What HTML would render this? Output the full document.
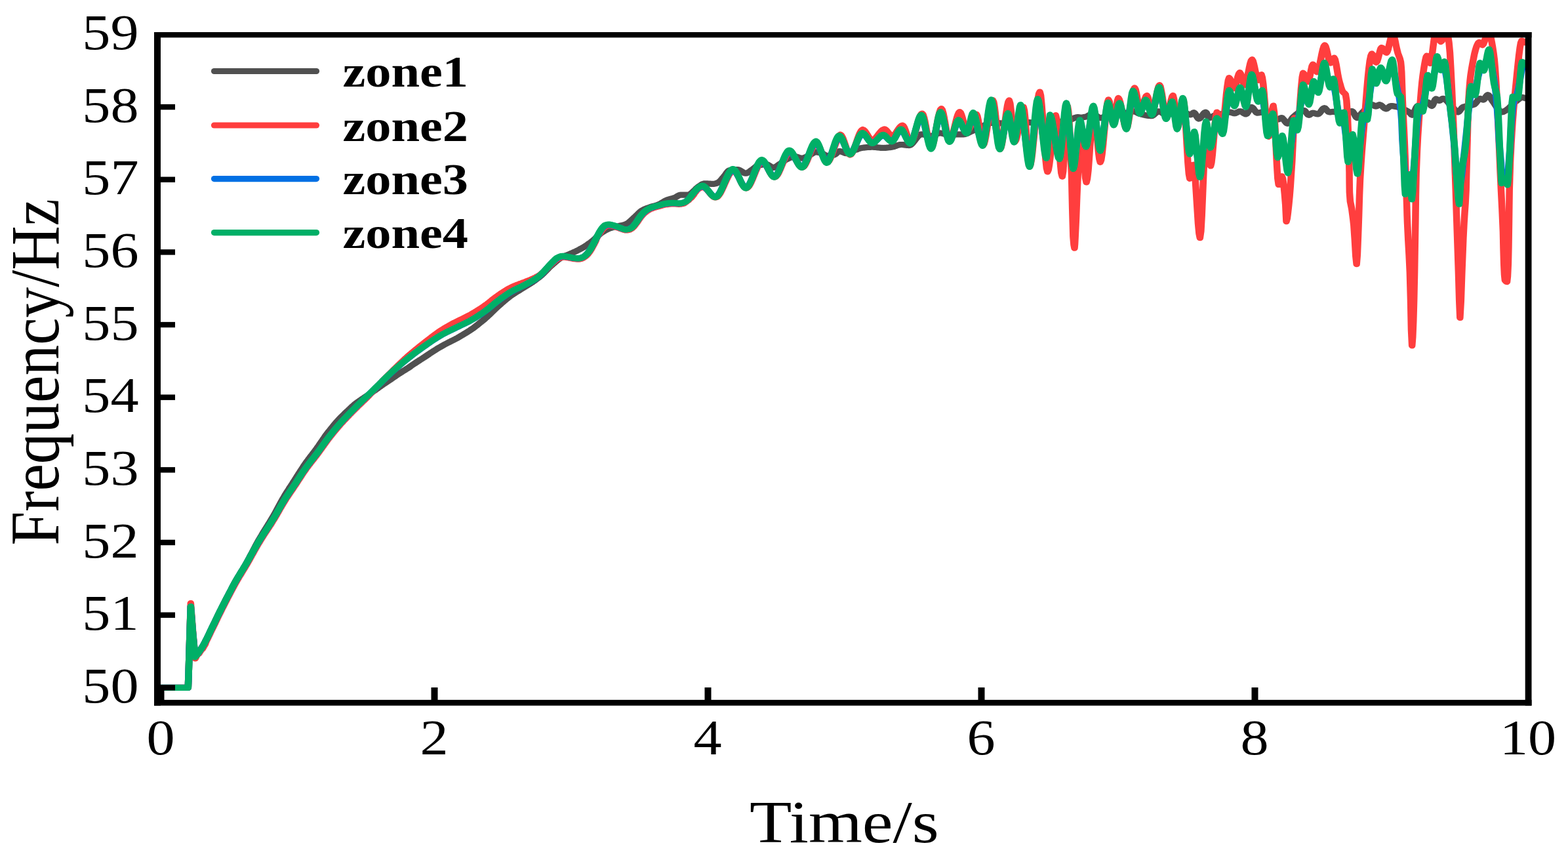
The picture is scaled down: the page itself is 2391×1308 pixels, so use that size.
<!DOCTYPE html>
<html lang="en">
<head>
<meta charset="utf-8">
<title>Frequency vs Time</title>
<style>
html,body{margin:0;padding:0;background:#fff;}
body{width:2391px;height:1308px;overflow:hidden;}
svg{display:block;}
text{font-family:"Liberation Serif","DejaVu Serif",serif;fill:#000;}
.tick{font-size:75.3px;}
.ttl{font-size:92px;}
.leg{font-size:67px;font-weight:bold;}
</style>
</head>
<body>
<svg width="2391" height="1308" viewBox="0 0 2391 1308">
<rect x="0" y="0" width="2391" height="1308" fill="#ffffff"/>
<defs><clipPath id="plotclip"><rect x="240" y="53" width="2090" height="1020"/></clipPath></defs>
<g clip-path="url(#plotclip)"><g transform="scale(1.145 1)">
<g fill="none" stroke="#505050" stroke-linejoin="round" stroke-linecap="round">
<polyline points="214.4,1048.4 250.5,1048.4 251.3,1023.0 254.0,924.6 256.8,965.0 259.7,1001.8 260.9,1000.2 262.1,998.5 263.3,996.7 264.4,994.9 265.6,993.0 266.8,991.0 268.0,988.9 269.1,986.8 270.3,984.6 271.5,982.2 272.7,979.6 273.9,976.9 275.2,974.1 276.4,971.3 277.6,968.4 278.8,965.5 280.0,962.6 281.2,959.7 282.5,956.6 283.8,953.5 285.2,950.4 286.5,947.2 287.8,944.1 289.1,941.0 290.4,937.9 291.7,934.8 292.9,932.0 294.2,929.2 295.4,926.4 296.6,923.6 297.9,920.8 299.1,918.1 300.3,915.3 301.6,912.6 302.8,909.9 304.1,907.1 305.4,904.2 306.7,901.4 308.0,898.6 309.2,895.7 310.5,893.0 311.8,890.2 313.1,887.5 314.4,884.9 315.7,882.4 316.9,880.0 318.2,877.6 319.5,875.2 320.7,872.9 322.0,870.5 323.3,868.2 324.5,865.8 325.8,863.4 327.1,861.0 328.3,858.4 329.6,855.8 330.8,853.1 332.1,850.4 333.3,847.7 334.6,844.9 335.9,842.2 337.1,839.5 338.4,836.7 339.6,834.0 340.9,831.4 342.1,828.7 343.4,826.1 344.6,823.5 345.9,821.0 347.2,818.5 348.5,816.1 349.7,813.7 351.0,811.3 352.3,808.9 353.6,806.6 354.8,804.2 356.1,801.9 357.4,799.5 358.7,797.1 360.0,794.8 361.2,792.4 362.5,789.9 363.8,787.5 365.1,784.9 366.4,782.3 367.7,779.6 369.0,776.8 370.3,774.0 371.6,771.2 372.9,768.4 374.2,765.6 375.5,762.9 376.9,760.3 378.2,757.7 379.4,755.3 380.7,752.9 382.0,750.5 383.3,748.2 384.6,746.0 385.8,743.7 387.1,741.5 388.4,739.2 389.7,737.0 390.9,734.7 392.2,732.4 393.5,730.2 394.7,728.0 395.9,725.8 397.1,723.6 398.4,721.4 399.6,719.2 400.8,717.0 402.1,714.8 403.3,712.7 404.5,710.5 405.8,708.4 407.0,706.4 408.2,704.4 409.5,702.5 410.7,700.5 412.0,698.7 413.2,696.8 414.4,694.9 415.7,693.1 416.9,691.3 418.2,689.4 419.4,687.6 420.7,685.6 421.9,683.7 423.1,681.7 424.4,679.7 425.6,677.7 426.8,675.6 428.1,673.5 429.3,671.5 430.5,669.4 431.8,667.3 433.0,665.2 434.2,663.3 435.5,661.4 436.7,659.6 438.0,657.7 439.3,655.9 440.6,654.0 441.9,652.2 443.2,650.4 444.4,648.6 445.7,646.8 447.0,645.1 448.3,643.4 449.6,641.7 450.9,640.0 452.2,638.5 453.4,637.1 454.7,635.6 455.9,634.2 457.2,632.8 458.4,631.4 459.7,630.0 460.9,628.6 462.2,627.2 463.5,625.9 464.7,624.5 466.0,623.2 467.2,621.9 468.5,620.5 469.7,619.2 471.0,617.9 472.2,616.6 473.5,615.5 474.7,614.4 476.0,613.4 477.2,612.4 478.5,611.4 479.7,610.4 481.0,609.4 482.2,608.4 483.5,607.5 484.7,606.5 486.0,605.5 487.2,604.5 488.5,603.6 489.8,602.6 491.0,601.6 492.3,600.6 493.5,599.6 494.8,598.6 496.0,597.6 497.3,596.6 498.6,595.5 499.9,594.5 501.2,593.4 502.5,592.4 503.8,591.3 505.1,590.2 506.4,589.2 507.7,588.1 508.9,587.1 510.2,586.1 511.5,585.0 512.8,584.0 514.1,583.0 515.4,582.0 516.7,581.0 518.0,580.1 519.3,579.1 520.5,578.2 521.8,577.2 523.1,576.2 524.4,575.2 525.7,574.2 526.9,573.2 528.2,572.2 529.5,571.2 530.8,570.2 532.0,569.3 533.3,568.3 534.6,567.4 535.8,566.4 537.1,565.5 538.4,564.6 539.7,563.7 540.9,562.8 542.2,561.9 543.5,561.0 544.8,560.0 546.1,559.0 547.3,557.9 548.6,556.9 549.9,555.9 551.2,554.9 552.4,554.0 553.7,553.0 555.0,552.0 556.3,551.0 557.6,550.1 558.8,549.1 560.1,548.2 561.4,547.3 562.7,546.3 564.0,545.4 565.2,544.5 566.5,543.5 567.8,542.5 569.1,541.5 570.4,540.5 571.7,539.5 572.9,538.5 574.2,537.6 575.5,536.6 576.8,535.6 578.1,534.7 579.4,533.8 580.7,532.8 581.9,531.9 583.2,531.0 584.5,530.2 585.8,529.3 587.1,528.5 588.4,527.6 589.6,526.8 590.9,526.0 592.2,525.2 593.5,524.4 594.7,523.7 596.0,522.9 597.3,522.1 598.6,521.4 599.9,520.7 601.1,519.9 602.4,519.2 603.7,518.5 605.0,517.7 606.3,517.0 607.5,516.2 608.8,515.5 610.1,514.6 611.4,513.7 612.6,512.9 613.9,512.0 615.2,511.1 616.5,510.3 617.7,509.4 619.0,508.5 620.3,507.7 621.5,506.8 622.8,505.9 624.1,504.9 625.4,504.0 626.6,503.0 627.9,502.0 629.3,501.0 630.6,499.9 631.9,498.8 633.2,497.6 634.5,496.5 635.8,495.3 637.1,494.1 638.4,492.9 639.7,491.7 641.0,490.5 642.4,489.3 643.7,488.0 645.0,486.8 646.3,485.5 647.5,484.2 648.8,482.9 650.0,481.6 651.3,480.3 652.5,478.9 653.8,477.5 655.0,476.1 656.3,474.7 657.5,473.3 658.8,471.9 660.0,470.5 661.3,469.2 662.5,467.9 663.8,466.6 665.0,465.3 666.3,464.1 667.5,462.8 668.7,461.6 670.0,460.4 671.2,459.1 672.5,457.9 673.7,456.7 675.0,455.6 676.2,454.4 677.5,453.3 678.7,452.2 680.0,451.1 681.2,450.1 682.5,449.1 683.7,448.1 685.0,447.2 686.2,446.3 687.5,445.4 688.7,444.5 690.0,443.6 691.2,442.8 692.5,441.9 693.7,441.0 694.9,440.2 696.2,439.3 697.4,438.4 698.7,437.5 699.9,436.7 701.2,435.8 702.4,434.9 703.7,434.0 704.9,433.1 706.2,432.2 707.4,431.3 708.7,430.4 709.9,429.4 711.2,428.4 712.4,427.4 713.7,426.3 714.9,425.2 716.2,424.1 717.5,423.1 718.8,421.9 720.1,420.7 721.4,419.3 722.7,417.9 724.0,416.5 725.3,415.0 726.6,413.5 727.9,412.0 729.2,410.4 730.5,408.9 731.7,407.4 733.0,406.0 734.3,404.7 735.6,403.4 736.9,402.1 738.2,400.9 739.5,399.6 740.8,398.3 742.1,397.1 743.3,395.9 744.6,394.8 745.9,393.8 747.2,392.8 748.5,392.0 749.7,391.3 751.0,390.7 752.3,390.1 753.6,389.6 754.8,389.0 756.1,388.5 757.4,387.9 758.6,387.3 759.8,386.7 761.0,386.1 762.2,385.5 763.4,384.9 764.7,384.3 765.9,383.6 767.1,383.0 768.3,382.3 769.5,381.6 770.7,380.9 771.9,380.2 773.1,379.4 774.4,378.7 775.6,377.9 776.8,377.1 778.0,376.3 779.2,375.4 780.5,374.5 781.7,373.5 782.9,372.5 784.2,371.5 785.4,370.5 786.7,369.4 787.9,368.3 789.2,367.2 790.4,366.0 791.7,364.7 793.0,363.3 794.3,361.8 795.6,360.3 796.9,358.8 798.3,357.4 799.6,356.1 800.9,355.0 802.1,354.0 803.4,353.1 804.7,352.2 805.9,351.4 807.2,350.6 808.4,349.8 809.7,349.2 811.0,348.5 812.2,348.0 813.5,347.5 814.8,347.1 816.2,346.7 817.5,346.3 818.8,346.0 820.1,345.6 821.4,345.3 822.7,344.9 823.9,344.6 825.1,344.3 826.3,344.0 827.6,343.7 828.8,343.4 830.0,343.1 831.2,342.7 832.4,342.3 833.6,341.8 834.8,341.2 836.1,340.3 837.3,339.3 838.5,338.1 839.7,336.9 840.9,335.6 842.1,334.3 843.3,333.0 844.5,331.8 845.7,330.6 846.9,329.2 848.2,327.8 849.4,326.4 850.6,325.1 851.8,323.7 853.0,322.5 854.2,321.5 855.4,320.6 856.6,319.9 857.8,319.2 859.0,318.6 860.2,318.0 861.4,317.5 862.6,317.0 863.9,316.5 865.1,316.1 866.3,315.6 867.5,315.1 868.7,314.7 869.9,314.3 871.1,314.0 872.4,313.6 873.6,313.2 874.8,312.8 876.0,312.3 877.2,311.8 878.4,311.2 879.6,310.5 880.8,309.7 882.0,308.8 883.2,308.0 884.4,307.1 885.6,306.3 886.8,305.6 888.0,305.0 889.2,304.5 890.5,304.0 891.7,303.6 892.9,303.3 894.1,302.9 895.3,302.5 896.5,302.1 897.7,301.7 899.0,301.2 900.1,300.6 901.3,299.7 902.5,298.9 903.7,298.1 904.8,297.5 906.0,297.2 907.2,297.2 908.4,297.1 909.6,297.1 910.9,297.1 912.1,297.1 913.3,297.1 914.5,297.0 915.7,297.0 916.9,297.0 918.0,296.7 919.1,295.9 920.2,295.0 921.3,293.9 922.3,292.9 923.6,291.6 924.9,290.2 926.2,288.7 927.4,287.2 928.7,285.9 930.0,284.8 931.2,283.8 932.5,282.8 933.7,281.9 934.9,281.0 936.2,280.4 937.4,279.9 938.7,279.8 939.9,279.8 941.1,279.8 942.3,279.9 943.5,280.0 944.7,280.1 945.9,280.2 947.1,280.3 948.3,280.4 949.6,280.4 950.9,280.3 952.2,280.0 953.5,279.6 954.8,279.1 956.1,278.5 957.4,277.7 958.6,276.4 959.9,274.9 961.2,273.2 962.4,271.4 963.7,269.8 965.0,268.0 966.2,266.0 967.5,263.9 968.8,262.0 970.1,260.5 971.3,259.8 972.5,259.6 973.7,259.3 975.0,259.1 976.2,259.0 977.4,258.8 978.6,258.7 979.8,258.6 981.0,258.6 982.2,258.6 983.4,258.8 984.6,259.3 985.8,260.0 987.1,260.9 988.3,261.8 989.5,262.7 990.7,263.5 991.9,264.0 993.1,264.2 994.3,264.0 995.6,263.4 996.8,262.6 998.1,261.7 999.3,260.6 1000.6,259.5 1001.8,258.6 1003.1,257.5 1004.3,256.3 1005.6,255.1 1006.9,253.9 1008.2,252.9 1009.4,252.3 1010.6,252.0 1011.8,251.7 1013.1,251.4 1014.3,251.1 1015.5,250.9 1016.7,250.7 1017.9,250.6 1019.1,250.5 1020.3,250.5 1021.5,250.7 1022.8,251.3 1024.0,252.1 1025.2,253.0 1026.4,253.9 1027.7,254.7 1028.9,255.2 1030.1,255.5 1031.4,255.3 1032.6,254.7 1033.8,253.9 1035.1,252.9 1036.3,251.9 1037.6,250.8 1038.8,249.9 1040.1,248.9 1041.3,247.9 1042.5,246.8 1043.8,245.7 1045.0,244.7 1046.3,243.8 1047.5,243.0 1048.7,242.3 1049.9,241.7 1051.2,241.0 1052.4,240.4 1053.6,239.8 1054.8,239.3 1056.0,239.0 1057.2,238.7 1058.4,238.6 1059.6,238.7 1060.9,239.0 1062.1,239.4 1063.3,239.9 1064.5,240.3 1065.8,240.7 1067.0,241.0 1068.2,241.1 1069.4,241.0 1070.7,240.6 1071.9,240.1 1073.2,239.5 1074.4,238.8 1075.7,238.0 1076.9,237.4 1078.1,236.7 1079.4,235.8 1080.6,234.9 1081.8,234.0 1083.0,233.1 1084.3,232.4 1085.5,232.0 1086.7,231.8 1087.9,231.9 1089.2,232.1 1090.4,232.4 1091.6,232.8 1092.8,233.3 1094.1,233.8 1095.3,234.4 1096.5,234.9 1097.6,235.5 1098.7,236.4 1099.8,237.1 1100.9,237.4 1102.1,237.4 1103.3,237.3 1104.5,237.2 1105.8,237.0 1107.0,236.9 1108.2,236.6 1109.4,236.4 1110.7,236.1 1111.9,235.5 1113.2,234.4 1114.5,233.1 1115.7,231.9 1117.0,230.9 1118.3,230.5 1119.5,230.7 1120.8,231.2 1122.0,231.8 1123.3,232.4 1124.5,233.0 1125.7,233.5 1127.0,233.7 1128.2,233.6 1129.4,233.3 1130.6,232.8 1131.9,232.3 1133.1,231.7 1134.3,231.0 1135.5,230.4 1136.7,229.7 1138.0,229.1 1139.2,228.6 1140.4,228.1 1141.7,227.6 1142.9,227.0 1144.2,226.5 1145.4,226.1 1146.7,225.7 1147.9,225.5 1149.1,225.3 1150.4,225.1 1151.6,224.9 1152.8,224.8 1154.1,224.6 1155.3,224.5 1156.6,224.4 1157.8,224.3 1159.0,224.3 1160.3,224.2 1161.5,224.2 1162.7,224.2 1164.0,224.3 1165.2,224.4 1166.4,224.5 1167.6,224.7 1168.9,224.8 1170.1,225.0 1171.3,225.1 1172.5,225.3 1173.7,225.4 1175.0,225.4 1176.2,225.5 1177.5,225.4 1178.7,225.4 1180.0,225.3 1181.3,225.1 1182.5,225.0 1183.8,224.8 1185.1,224.6 1186.4,224.4 1187.6,224.2 1188.9,224.0 1190.1,223.6 1191.4,223.1 1192.6,222.6 1193.9,222.1 1195.1,221.6 1196.4,221.2 1197.6,220.8 1198.9,220.6 1200.1,220.5 1201.3,220.5 1202.5,220.6 1203.6,220.8 1204.8,220.9 1206.0,221.1 1207.2,221.3 1208.3,221.4 1209.5,221.5 1210.7,221.6 1211.9,221.3 1213.2,220.5 1214.4,219.3 1215.7,217.8 1216.9,216.0 1218.2,214.1 1219.4,212.2 1220.7,210.3 1222.0,208.5 1223.2,207.0 1224.5,205.8 1225.7,205.0 1227.0,204.8 1228.3,204.8 1229.6,205.0 1230.9,205.3 1232.2,205.6 1233.5,206.0 1234.8,206.4 1236.1,206.7 1237.4,207.0 1238.7,207.2 1240.0,207.2 1241.2,207.1 1242.4,206.8 1243.6,206.3 1244.8,205.7 1246.0,205.1 1247.2,204.4 1248.4,203.8 1249.6,203.3 1250.8,203.0 1252.0,202.9 1253.3,203.0 1254.5,203.2 1255.8,203.6 1257.0,204.0 1258.3,204.4 1259.5,204.9 1260.8,205.3 1262.0,205.7 1263.3,205.9 1264.5,206.0 1265.8,206.0 1267.0,205.9 1268.3,205.7 1269.5,205.6 1270.8,205.4 1272.0,205.2 1273.3,205.0 1274.6,204.9 1275.8,204.8 1277.1,204.8 1278.4,204.8 1279.7,204.8 1281.0,204.8 1282.3,204.8 1283.6,204.8 1284.8,204.6 1286.0,204.3 1287.2,203.8 1288.4,203.2 1289.6,202.5 1290.8,201.8 1292.1,201.1 1293.3,200.4 1294.5,199.8 1295.7,199.2 1296.9,198.7 1298.1,198.1 1299.3,197.6 1300.5,197.0 1301.7,196.5 1302.9,195.9 1304.1,195.4 1305.4,194.8 1306.6,194.1 1307.9,193.3 1309.2,192.4 1310.5,191.5 1311.8,190.6 1313.1,189.8 1314.4,189.0 1315.6,188.3 1316.9,187.8 1318.2,187.4 1319.5,187.3 1320.7,187.3 1322.0,187.3 1323.2,187.4 1324.4,187.4 1325.7,187.5 1326.9,187.5 1328.1,187.6 1329.4,187.6 1330.6,187.7 1331.8,187.8 1333.1,187.8 1334.3,187.9 1335.5,187.9 1336.8,187.9 1338.0,187.9 1339.3,187.9 1340.6,187.9 1341.9,187.8 1343.1,187.7 1344.4,187.5 1345.7,187.4 1347.0,187.2 1348.3,187.1 1349.5,186.9 1350.8,186.7 1352.1,186.6 1353.4,186.4 1354.7,186.3 1355.9,186.2 1357.2,186.1 1358.5,186.1 1359.8,186.1 1361.1,186.1 1362.3,186.1 1363.6,186.2 1364.9,186.2 1366.2,186.3 1367.5,186.4 1368.7,186.5 1370.0,186.6 1371.3,186.7 1372.6,186.8 1373.9,186.9 1375.1,187.0 1376.4,187.1 1377.7,187.2 1379.0,187.3 1380.3,187.3 1381.6,187.3 1382.8,187.3 1384.1,187.3 1385.4,187.2 1386.7,187.2 1388.0,187.1 1389.2,187.1 1390.5,187.0 1391.8,186.9 1393.1,186.8 1394.4,186.7 1395.6,186.6 1396.9,186.5 1398.2,186.4 1399.5,186.3 1400.8,186.2 1402.0,186.1 1403.3,186.1 1404.6,186.0 1405.8,185.9 1407.1,185.8 1408.3,185.8 1409.6,185.7 1410.9,185.6 1412.1,185.5 1413.4,185.4 1414.6,185.3 1415.9,185.2 1417.1,185.1 1418.4,185.0 1419.7,184.8 1420.9,184.6 1422.2,184.2 1423.4,183.7 1424.7,183.1 1425.9,182.5 1427.2,181.8 1428.4,181.1 1429.7,180.4 1431.0,179.8 1432.2,179.3 1433.5,178.9 1434.7,178.7 1436.0,178.6 1436.9,178.7 1437.8,179.0 1438.6,179.2 1439.9,179.1 1441.2,179.0 1442.5,178.8 1443.7,178.5 1445.0,178.2 1446.3,177.9 1447.5,177.5 1448.7,176.8 1450.0,175.9 1451.2,175.1 1452.5,174.3 1453.7,173.8 1455.0,173.6 1456.2,173.8 1457.4,174.3 1458.6,175.2 1459.8,176.2 1461.0,177.2 1462.2,178.2 1463.4,179.0 1464.6,179.6 1465.9,179.8 1467.1,179.6 1468.3,179.2 1469.5,178.7 1470.7,177.9 1471.9,177.2 1473.1,176.4 1474.3,175.7 1475.5,175.2 1476.7,174.8 1477.9,174.6 1479.2,174.4 1480.4,174.3 1481.6,174.2 1482.8,174.0 1484.0,173.9 1485.2,173.8 1486.4,173.7 1487.6,173.6 1488.8,173.4 1490.0,173.3 1491.3,173.2 1492.5,173.1 1493.7,172.9 1494.9,172.8 1496.1,172.6 1497.3,172.5 1498.5,172.3 1499.7,172.1 1500.9,171.8 1502.1,171.4 1503.3,171.0 1504.6,170.7 1505.8,170.3 1507.0,170.1 1508.2,169.9 1509.4,169.8 1510.6,170.0 1511.9,170.4 1513.1,171.0 1514.4,171.7 1515.6,172.5 1516.9,173.1 1518.1,173.6 1519.4,173.9 1520.6,174.3 1521.9,174.7 1523.2,175.0 1524.5,175.4 1525.7,175.7 1527.0,175.9 1528.3,176.2 1529.5,176.4 1530.8,176.5 1532.1,176.6 1533.3,176.7 1534.6,176.4 1535.8,175.6 1537.0,174.5 1538.2,173.3 1539.5,172.0 1540.7,170.9 1541.9,170.1 1543.1,169.8 1544.4,170.0 1545.6,170.6 1546.8,171.4 1548.0,172.3 1549.3,173.2 1550.5,174.0 1551.7,174.6 1552.9,174.8 1554.1,174.7 1555.4,174.6 1556.6,174.3 1557.8,174.0 1559.0,173.6 1560.2,173.2 1561.4,172.9 1562.6,172.5 1563.8,172.3 1565.0,172.1 1566.2,171.9 1567.4,171.7 1568.7,171.6 1569.9,171.4 1571.1,171.3 1572.3,171.2 1573.5,171.1 1574.7,171.1 1575.9,171.2 1577.1,171.5 1578.3,172.0 1579.5,172.6 1580.8,173.3 1582.0,173.8 1583.2,174.3 1584.4,174.7 1585.6,174.8 1586.7,174.3 1587.8,173.3 1588.9,172.2 1589.9,171.7 1591.2,172.7 1592.6,175.0 1593.9,177.8 1595.2,180.1 1596.5,181.0 1597.6,180.6 1598.8,179.5 1599.9,177.9 1601.1,176.1 1602.3,174.2 1603.4,172.6 1604.6,171.5 1605.7,171.1 1606.9,172.4 1608.0,175.4 1609.1,178.3 1610.3,179.6 1611.5,179.4 1612.8,178.9 1614.1,178.1 1615.3,177.2 1616.6,176.5 1617.9,175.9 1619.1,175.5 1620.3,175.2 1621.5,174.9 1622.7,174.7 1623.9,174.4 1625.1,174.2 1626.3,173.9 1627.5,173.7 1628.8,173.4 1630.0,173.1 1631.2,172.7 1632.4,172.3 1633.7,171.9 1634.9,171.6 1636.1,171.3 1637.3,171.1 1638.6,171.0 1639.6,171.2 1640.7,171.7 1641.8,172.2 1642.9,172.6 1644.0,172.8 1645.3,172.6 1646.5,172.0 1647.8,171.2 1649.1,170.5 1650.3,169.9 1651.6,169.7 1652.9,170.0 1654.2,170.8 1655.4,171.9 1656.7,172.9 1658.0,173.7 1659.2,174.0 1660.5,173.3 1661.8,171.3 1663.0,168.7 1664.3,166.2 1665.6,164.2 1666.9,163.4 1668.1,164.1 1669.4,165.7 1670.7,167.8 1671.9,169.9 1673.2,171.5 1674.5,172.2 1675.8,172.0 1677.1,171.7 1678.4,171.4 1679.7,171.1 1681.0,170.9 1682.2,171.2 1683.4,171.9 1684.6,172.9 1685.8,174.1 1687.1,175.4 1688.3,176.8 1689.5,178.0 1690.7,179.0 1691.9,179.6 1693.1,180.1 1694.3,180.6 1695.6,181.0 1696.8,181.4 1698.0,181.7 1699.2,181.9 1700.5,182.1 1701.7,182.1 1702.9,181.8 1704.1,180.9 1705.4,180.0 1706.6,179.6 1707.8,180.1 1708.9,181.4 1710.1,183.1 1711.3,184.9 1712.4,186.6 1713.6,187.9 1714.7,188.4 1716.0,187.8 1717.3,186.3 1718.6,184.3 1719.8,182.1 1721.1,180.0 1722.4,178.4 1723.7,177.2 1724.9,175.9 1726.2,174.7 1727.5,173.4 1728.8,172.3 1730.1,171.2 1731.4,170.3 1732.7,169.5 1733.9,168.9 1735.2,168.6 1736.5,168.4 1737.8,169.1 1739.1,170.8 1740.4,172.9 1741.7,174.6 1743.1,175.3 1744.1,175.0 1745.2,174.2 1746.3,173.3 1747.4,172.5 1748.5,172.2 1749.8,172.4 1751.1,172.8 1752.4,173.4 1753.7,173.8 1755.0,174.0 1756.3,173.5 1757.5,172.2 1758.8,170.4 1760.0,168.4 1761.2,166.5 1762.5,165.2 1763.7,164.7 1765.0,165.3 1766.3,166.9 1767.7,168.7 1769.0,170.3 1770.3,170.9 1771.4,170.9 1772.4,170.7 1773.5,170.5 1774.6,170.4 1775.7,170.3 1776.9,170.4 1778.2,170.6 1779.4,170.9 1780.6,171.2 1781.8,171.6 1783.1,171.9 1784.3,172.1 1785.5,172.2 1786.8,172.1 1788.0,172.0 1789.3,171.8 1790.6,171.5 1791.9,171.2 1793.1,170.9 1794.4,170.6 1795.7,170.3 1796.9,170.1 1798.2,169.9 1799.5,169.7 1800.7,169.7 1802.0,170.7 1803.4,173.2 1804.7,176.1 1806.0,178.6 1807.3,179.6 1808.6,179.1 1809.9,177.7 1811.2,175.8 1812.5,173.8 1813.8,172.2 1815.0,170.8 1816.3,169.4 1817.5,167.9 1818.7,166.3 1820.0,164.9 1821.2,163.5 1822.5,162.2 1823.7,161.2 1824.9,160.4 1826.2,159.8 1827.4,159.6 1828.6,160.0 1829.9,160.9 1831.1,161.8 1832.3,162.1 1833.5,161.8 1834.7,160.9 1836.0,160.0 1837.2,159.6 1838.4,160.0 1839.7,160.9 1840.9,162.1 1842.2,163.4 1843.4,164.6 1844.7,165.5 1845.9,165.9 1847.2,165.4 1848.5,164.3 1849.8,163.1 1851.1,162.0 1852.4,161.5 1853.7,161.6 1855.0,161.7 1856.2,161.9 1857.5,162.2 1858.8,162.5 1860.1,162.8 1861.3,163.1 1862.6,163.5 1863.8,163.9 1865.1,164.4 1866.3,164.9 1867.6,165.5 1868.8,166.2 1870.1,166.8 1871.4,167.6 1872.6,168.3 1873.9,169.1 1875.1,170.0 1876.4,170.9 1877.5,172.0 1878.6,173.4 1879.7,174.7 1880.7,175.2 1882.0,174.0 1883.4,171.1 1884.7,167.5 1886.0,164.2 1887.3,162.1 1888.6,161.2 1889.8,160.2 1891.1,159.4 1892.4,158.6 1893.7,157.9 1895.0,157.4 1896.3,156.8 1897.6,156.4 1898.8,156.2 1900.1,156.0 1901.4,155.9 1902.5,156.5 1903.6,157.9 1904.7,159.5 1905.8,160.9 1906.9,161.5 1908.0,160.4 1909.0,157.8 1910.1,154.7 1911.2,152.0 1912.3,150.9 1913.4,151.3 1914.5,152.2 1915.6,153.0 1916.7,153.4 1917.9,152.9 1919.1,151.9 1920.3,150.8 1921.6,150.3 1922.8,150.5 1924.0,151.2 1925.3,152.2 1926.5,153.5 1927.7,155.0 1929.0,156.6 1930.2,158.3 1931.5,160.1 1932.7,161.7 1933.9,163.3 1935.2,164.6 1936.5,166.1 1937.8,167.8 1939.1,169.3 1940.4,170.4 1941.7,170.9 1943.0,170.2 1944.3,168.5 1945.6,166.5 1946.9,164.6 1948.2,163.4 1949.5,162.8 1950.8,162.4 1952.0,162.0 1953.3,161.7 1954.6,161.4 1955.8,161.2 1957.1,161.0 1958.4,160.7 1959.7,160.4 1960.9,160.0 1962.2,159.6 1963.5,159.0 1964.7,157.9 1966.0,156.2 1967.3,154.2 1968.5,152.3 1969.8,150.9 1971.1,150.3 1972.2,150.6 1973.3,151.2 1974.4,151.9 1975.4,152.2 1976.6,151.4 1977.8,149.5 1979.0,147.3 1980.2,145.5 1981.4,144.7 1982.6,145.3 1983.8,147.0 1985.0,149.1 1986.2,151.4 1987.4,153.4 1988.7,155.4 1990.0,157.6 1991.3,159.9 1992.6,162.2 1993.9,164.4 1995.3,166.5 1996.6,168.3 1997.9,169.6 1999.2,170.5 2000.5,170.9 2001.7,170.6 2002.9,170.0 2004.1,169.2 2005.4,168.4 2006.6,167.5 2007.8,166.4 2009.0,165.3 2010.3,164.0 2011.5,162.6 2012.7,161.2 2013.9,159.8 2015.2,158.4 2016.4,157.0 2017.6,155.7 2018.8,154.5 2020.1,153.4 2021.2,152.4 2022.4,151.3 2023.6,150.2 2024.8,149.3 2026.0,148.7 2027.1,148.4 2028.2,148.6 2029.3,149.0 2030.4,149.4 2031.5,149.7 2032.8,149.8 2034.1,149.9 2035.4,150.0 2036.7,150.0" stroke-width="9.20"/>
</g>
<g fill="none" stroke="#ff3e3e" stroke-linejoin="round" stroke-linecap="round">
<polyline points="214.4,1048.4 250.5,1048.4 251.3,1023.0 254.0,919.6 257.0,965.0 260.1,1004.0 262.6,998.1 263.8,997.1 265.0,996.1 266.1,994.2 267.3,992.2 268.5,990.1 269.7,989.1 270.8,986.9 272.0,984.5 273.3,982.1 274.5,978.2 275.7,975.5 276.9,972.7 278.1,969.8 279.3,966.9 280.5,964.0 281.7,961.0 283.1,958.0 284.4,954.9 285.7,951.9 287.0,948.7 288.3,945.6 289.6,942.5 290.9,939.5 292.2,936.5 293.5,933.6 294.7,930.7 295.9,927.9 297.2,925.1 298.4,922.4 299.6,919.6 300.9,916.8 302.1,914.1 303.3,911.3 304.6,908.5 305.9,905.7 307.2,902.9 308.5,900.1 309.8,897.3 311.1,894.5 312.4,891.8 313.6,889.2 314.9,886.6 316.2,884.0 317.5,881.6 318.7,879.1 320.0,876.7 321.3,874.4 322.5,872.0 323.8,869.6 325.1,867.3 326.3,864.9 327.6,862.4 328.9,860.0 330.1,857.5 331.4,854.9 332.6,852.4 333.9,849.8 335.1,847.2 336.4,844.7 337.6,842.1 338.9,839.5 340.1,837.0 341.4,834.4 342.6,832.0 343.9,829.5 345.2,827.1 346.4,824.7 347.7,822.3 349.0,820.0 350.3,817.7 351.5,815.4 352.8,813.2 354.1,811.0 355.4,808.7 356.6,806.5 357.9,804.3 359.2,802.0 360.5,799.8 361.8,797.5 363.0,795.1 364.3,792.8 365.6,790.3 366.9,787.8 368.2,785.3 369.5,782.7 370.8,780.1 372.1,777.4 373.4,774.8 374.8,772.2 376.1,769.6 377.4,767.1 378.7,764.7 380.0,762.3 381.2,760.0 382.5,757.8 383.8,755.6 385.1,753.4 386.4,751.2 387.6,749.1 388.9,747.0 390.2,744.8 391.5,742.7 392.8,740.5 394.0,738.4 395.2,736.2 396.4,734.0 397.7,731.9 398.9,729.7 400.1,727.6 401.4,725.4 402.6,723.3 403.8,721.2 405.1,719.1 406.3,717.1 407.5,715.1 408.8,713.1 410.0,711.2 411.2,709.3 412.5,707.5 413.7,705.6 415.0,703.8 416.2,702.0 417.5,700.2 418.7,698.4 419.9,696.5 421.2,694.7 422.4,692.8 423.7,690.9 424.9,689.0 426.1,687.1 427.4,685.1 428.6,683.2 429.8,681.2 431.1,679.2 432.3,677.2 433.5,675.3 434.7,673.3 436.0,671.4 437.2,669.5 438.5,667.6 439.8,665.7 441.1,663.8 442.4,662.0 443.7,660.1 445.0,658.3 446.3,656.5 447.6,654.7 448.9,653.0 450.1,651.3 451.4,649.6 452.7,647.9 453.9,646.3 455.2,644.7 456.5,643.2 457.7,641.6 459.0,640.1 460.2,638.6 461.5,637.0 462.7,635.5 464.0,634.1 465.2,632.6 466.5,631.1 467.7,629.6 469.0,628.2 470.2,626.7 471.5,625.3 472.8,623.8 474.0,622.4 475.3,621.0 476.5,619.6 477.8,618.1 479.0,616.8 480.3,615.4 481.5,614.0 482.8,612.6 484.0,611.2 485.3,609.9 486.5,608.5 487.8,607.1 489.0,605.8 490.3,604.3 491.5,602.8 492.8,601.2 494.0,599.6 495.3,598.0 496.6,596.4 497.9,594.8 499.2,593.2 500.4,591.6 501.7,590.0 503.0,588.5 504.3,586.9 505.6,585.4 506.9,583.9 508.2,582.3 509.5,580.8 510.8,579.2 512.0,577.7 513.3,576.2 514.6,574.7 515.9,573.2 517.2,571.7 518.5,570.2 519.8,568.8 521.1,567.3 522.4,565.9 523.6,564.4 524.9,563.0 526.2,561.5 527.5,560.1 528.7,558.7 530.0,557.2 531.3,555.8 532.6,554.4 533.8,553.1 535.1,551.7 536.4,550.3 537.6,548.9 538.9,547.6 540.2,546.3 541.5,544.9 542.7,543.6 544.0,542.3 545.3,541.0 546.6,539.8 547.9,538.5 549.1,537.3 550.4,536.1 551.7,534.9 553.0,533.7 554.3,532.5 555.5,531.3 556.8,530.1 558.1,528.9 559.4,527.7 560.6,526.6 561.9,525.4 563.2,524.3 564.5,523.1 565.8,522.0 567.0,520.8 568.3,519.7 569.6,518.6 570.9,517.4 572.2,516.3 573.5,515.2 574.8,514.0 576.0,512.9 577.3,511.8 578.6,510.7 579.9,509.7 581.2,508.6 582.5,507.5 583.7,506.5 585.0,505.5 586.3,504.5 587.6,503.5 588.9,502.6 590.2,501.7 591.4,500.8 592.7,499.9 594.0,499.0 595.3,498.2 596.6,497.3 597.8,496.5 599.1,495.6 600.4,494.8 601.7,494.0 602.9,493.2 604.2,492.4 605.5,491.7 606.8,491.0 608.1,490.3 609.3,489.5 610.6,488.8 611.9,488.1 613.2,487.4 614.4,486.7 615.7,486.0 617.0,485.3 618.3,484.6 619.5,483.8 620.8,483.1 622.1,482.4 623.3,481.6 624.6,480.9 625.9,480.1 627.2,479.3 628.5,478.4 629.8,477.5 631.1,476.7 632.4,475.8 633.7,474.9 635.0,474.0 636.3,473.0 637.6,472.1 639.0,471.1 640.3,470.1 641.6,469.1 642.9,468.1 644.2,467.1 645.5,466.0 646.8,465.0 648.1,463.9 649.3,462.8 650.6,461.7 651.8,460.6 653.1,459.4 654.3,458.3 655.5,457.1 656.8,456.0 658.0,454.9 659.3,453.8 660.5,452.8 661.8,451.7 663.0,450.7 664.3,449.7 665.5,448.7 666.8,447.7 668.0,446.8 669.3,445.8 670.5,444.9 671.8,444.0 673.0,443.1 674.3,442.2 675.5,441.3 676.8,440.5 678.0,439.7 679.3,439.0 680.5,438.3 681.7,437.6 683.0,436.9 684.2,436.3 685.5,435.7 686.7,435.1 688.0,434.5 689.2,434.0 690.5,433.5 691.7,432.9 693.0,432.4 694.2,431.9 695.5,431.3 696.7,430.7 698.0,430.2 699.2,429.7 700.5,429.1 701.7,428.6 703.0,428.0 704.2,427.5 705.5,426.9 706.7,426.3 707.9,425.7 709.2,425.1 710.4,424.4 711.7,423.8 712.9,423.1 714.2,422.4 715.4,421.6 716.7,420.7 718.0,419.8 719.3,418.8 720.6,417.7 721.9,416.5 723.2,415.2 724.5,413.9 725.8,412.5 727.1,411.0 728.4,409.5 729.7,408.0 731.0,406.5 732.3,405.0 733.6,403.5 734.9,402.0 736.2,400.6 737.5,399.2 738.8,397.9 740.1,396.8 741.4,395.7 742.7,394.8 744.0,393.9 745.3,393.2 746.6,392.7 747.9,392.4 749.2,392.2 750.5,392.1 751.7,392.1 753.0,392.3 754.2,392.4 755.5,392.7 756.7,392.9 757.9,393.2 759.2,393.5 760.6,393.8 761.9,394.1 763.2,394.4 764.5,394.6 765.8,394.8 767.1,395.0 768.4,395.1 769.7,395.1 771.0,395.1 772.3,394.9 773.6,394.6 774.9,394.1 776.2,393.5 777.5,392.7 778.8,391.7 780.1,390.6 781.5,389.2 782.8,387.6 784.1,385.7 785.4,383.7 786.7,381.4 788.0,379.0 789.3,376.3 790.6,373.6 791.9,370.7 793.2,367.8 794.5,363.6 795.8,360.9 797.1,358.4 798.2,356.0 799.3,355.0 800.4,353.0 801.5,351.1 802.6,349.6 803.7,348.2 804.7,347.0 805.8,346.0 806.9,345.3 808.0,344.7 809.1,344.3 810.2,344.1 811.3,344.0 812.6,344.0 813.9,344.1 815.2,344.4 816.5,344.8 817.8,345.2 819.1,345.6 820.3,346.1 821.6,346.6 822.9,347.2 824.2,347.7 825.4,348.2 826.7,348.8 827.9,349.3 829.2,349.8 830.4,350.3 831.6,350.6 832.9,350.9 834.1,351.0 835.4,350.9 836.8,350.7 838.1,350.3 839.4,349.7 840.7,348.8 842.0,347.8 843.3,346.4 844.6,344.9 845.9,343.1 847.2,341.1 848.5,339.0 849.8,336.8 851.1,334.7 852.4,332.6 853.7,330.6 855.0,328.8 856.3,327.1 857.6,325.6 859.0,324.2 860.3,323.0 861.6,321.8 862.9,320.9 864.2,320.0 865.5,319.2 866.8,318.5 868.0,317.9 869.2,317.4 870.4,316.9 871.6,316.5 872.8,316.1 874.0,315.7 875.3,315.3 876.5,314.9 877.7,314.6 878.9,314.2 880.1,313.8 881.3,313.4 882.5,313.0 883.7,312.6 884.9,312.3 886.1,312.0 887.4,311.8 888.6,311.6 889.8,311.4 891.1,311.2 892.3,311.1 893.5,311.0 894.8,311.0 896.0,310.9 897.3,310.9 898.5,311.0 899.8,311.0 901.0,311.1 902.2,311.2 903.5,311.3 904.7,311.3 906.0,311.2 907.2,311.1 908.5,310.8 909.8,310.5 911.1,310.0 912.3,308.9 913.6,308.0 914.8,307.0 915.9,305.8 917.1,305.1 918.2,303.7 919.4,302.2 920.6,301.5 921.7,299.9 922.9,298.2 924.1,296.4 925.4,293.9 926.7,292.2 927.9,290.1 929.2,288.8 930.5,287.6 931.6,286.7 932.7,286.5 933.8,285.9 934.8,285.6 935.9,285.5 937.2,285.7 938.4,286.2 939.7,287.3 940.9,288.6 942.2,290.1 943.4,291.7 944.6,293.4 945.9,295.1 947.1,296.8 948.4,298.3 949.6,299.5 950.9,300.5 952.1,301.0 953.3,301.0 954.6,300.5 955.9,299.5 957.2,297.9 958.5,295.8 959.8,293.3 961.1,290.4 962.4,287.3 963.7,284.0 965.0,280.6 966.3,277.3 967.6,274.0 968.9,270.9 970.2,268.0 971.5,265.5 972.8,263.4 974.2,261.8 975.5,260.9 976.8,260.6 978.0,261.0 979.2,262.0 980.4,263.6 981.6,265.7 982.9,268.2 984.1,270.9 985.3,273.7 986.5,276.6 987.7,279.3 989.0,281.8 990.2,283.9 991.4,285.5 992.6,286.5 993.9,286.8 995.1,286.4 996.3,285.3 997.6,283.6 998.8,281.3 1000.1,278.5 1001.3,275.4 1002.6,272.0 1003.8,268.5 1005.1,264.9 1006.3,261.4 1007.6,258.0 1008.8,254.9 1010.1,252.1 1011.3,249.8 1012.6,248.1 1013.8,247.0 1015.1,246.7 1016.4,247.0 1017.6,248.0 1018.9,249.6 1020.2,251.8 1021.4,254.2 1022.7,256.9 1024.0,259.7 1025.3,262.4 1026.5,264.9 1027.8,267.0 1029.1,268.6 1030.4,269.6 1031.6,269.9 1032.9,269.5 1034.1,268.4 1035.4,266.6 1036.7,264.1 1037.9,261.3 1039.2,258.1 1040.4,254.6 1041.7,251.1 1043.0,247.5 1044.2,244.1 1045.5,240.9 1046.7,238.0 1048.0,235.6 1049.2,233.8 1050.5,232.7 1051.8,232.2 1053.0,232.5 1054.3,233.5 1055.6,235.1 1056.9,237.2 1058.2,239.7 1059.4,242.4 1060.7,245.1 1062.0,247.8 1063.3,250.2 1064.6,252.3 1065.9,253.9 1067.1,254.9 1068.4,255.1 1069.7,254.6 1070.9,253.4 1072.2,251.4 1073.4,248.8 1074.7,245.7 1075.9,242.3 1077.2,238.7 1078.4,235.0 1079.6,231.4 1080.9,228.0 1082.1,224.9 1083.4,222.3 1084.6,220.4 1085.9,219.3 1087.1,219.0 1088.3,219.6 1089.6,221.1 1090.8,223.4 1092.0,226.3 1093.2,229.7 1094.4,233.3 1095.6,236.9 1096.8,240.3 1098.0,243.2 1099.2,245.5 1100.4,246.9 1101.6,247.3 1102.9,246.7 1104.2,245.1 1105.4,242.5 1106.7,239.2 1108.0,235.4 1109.3,231.2 1110.5,226.9 1111.8,222.7 1113.1,218.8 1114.3,215.5 1115.5,211.7 1116.7,208.5 1117.9,206.2 1119.1,205.2 1120.4,206.2 1121.7,208.6 1123.0,212.0 1124.3,216.2 1125.6,220.6 1126.9,225.1 1128.2,229.3 1129.5,232.7 1130.8,235.1 1132.1,236.1 1133.4,235.3 1134.7,233.4 1136.0,230.7 1137.3,227.2 1138.6,223.2 1139.9,219.0 1141.2,214.6 1142.5,210.4 1143.8,206.4 1145.1,202.9 1146.4,200.2 1147.7,198.3 1149.0,197.5 1150.2,198.1 1151.5,199.3 1152.7,201.1 1154.0,203.2 1155.2,205.6 1156.5,207.9 1157.7,210.1 1159.0,211.9 1160.3,213.1 1161.5,213.6 1162.8,213.3 1164.0,212.5 1165.3,211.3 1166.5,209.8 1167.8,208.1 1169.0,206.2 1170.3,204.3 1171.6,202.5 1172.8,200.8 1174.1,199.3 1175.3,198.1 1176.6,197.3 1177.8,196.9 1179.1,197.4 1180.4,198.6 1181.7,200.3 1183.0,202.2 1184.3,204.0 1185.6,205.7 1186.9,206.9 1188.2,207.4 1189.4,207.0 1190.7,205.9 1191.9,204.4 1193.2,202.5 1194.4,200.4 1195.7,198.2 1196.9,196.1 1198.2,194.2 1199.4,192.7 1200.7,191.6 1201.9,191.2 1203.2,192.2 1204.4,194.6 1205.6,198.0 1206.8,202.1 1208.0,206.3 1209.2,210.4 1210.4,213.8 1211.6,216.2 1212.8,217.2 1214.1,216.2 1215.4,213.7 1216.6,210.1 1217.9,205.6 1219.2,200.5 1220.5,195.1 1221.7,189.7 1223.0,184.6 1224.3,180.1 1225.5,176.5 1226.8,174.0 1228.1,173.0 1229.3,174.6 1230.5,178.7 1231.7,184.6 1232.9,191.7 1234.1,199.5 1235.3,207.2 1236.5,214.3 1237.7,220.2 1238.8,224.3 1240.0,225.9 1241.3,224.3 1242.5,220.4 1243.8,214.7 1245.0,207.6 1246.2,199.8 1247.5,191.7 1248.7,183.9 1249.9,176.9 1251.2,171.2 1252.4,167.2 1253.7,165.6 1254.9,167.5 1256.1,172.1 1257.3,178.7 1258.5,186.4 1259.7,194.5 1260.9,202.3 1262.1,208.8 1263.3,213.4 1264.5,215.3 1265.8,214.2 1267.0,211.2 1268.2,207.0 1269.5,201.8 1270.7,196.0 1272.0,190.0 1273.2,184.2 1274.4,179.0 1275.7,174.7 1276.9,171.8 1278.1,170.6 1279.4,172.0 1280.6,175.3 1281.8,179.9 1283.0,185.2 1284.3,190.5 1285.5,195.1 1286.7,198.4 1287.9,199.8 1289.2,199.0 1290.4,197.0 1291.7,194.2 1292.9,190.8 1294.2,187.1 1295.5,183.4 1296.7,179.9 1298.0,177.1 1299.2,175.1 1300.5,174.3 1301.7,177.2 1302.9,183.9 1304.2,193.0 1305.4,202.9 1306.7,212.0 1307.9,218.8 1309.2,221.6 1310.5,219.4 1311.8,214.1 1313.1,206.4 1314.4,197.2 1315.7,187.1 1317.0,177.1 1318.3,167.8 1319.6,160.2 1320.9,154.8 1322.2,152.7 1323.5,156.2 1324.7,164.6 1325.9,176.5 1327.1,189.9 1328.4,203.4 1329.6,215.2 1330.8,223.7 1332.0,227.2 1333.2,224.8 1334.4,219.1 1335.6,210.8 1336.8,200.9 1338.0,190.0 1339.2,179.2 1340.4,169.3 1341.6,161.0 1342.8,155.3 1344.0,152.9 1345.3,157.9 1346.5,169.5 1347.8,184.4 1349.1,199.4 1350.3,211.0 1351.6,216.0 1352.9,213.9 1354.2,209.0 1355.4,202.0 1356.7,193.8 1358.0,185.2 1359.2,176.9 1360.5,169.9 1361.8,165.0 1363.0,163.0 1364.2,168.4 1365.4,181.4 1366.5,199.0 1367.7,218.0 1368.9,235.5 1370.0,248.5 1371.2,254.0 1372.4,250.9 1373.7,243.5 1374.9,232.7 1376.1,219.4 1377.4,204.6 1378.6,189.4 1379.8,174.6 1381.1,161.4 1382.3,150.5 1383.5,143.1 1384.8,140.0 1386.1,145.8 1387.3,159.7 1388.6,179.0 1389.9,201.0 1391.2,223.0 1392.5,242.3 1393.8,256.2 1395.1,261.9 1396.3,258.6 1397.5,250.6 1398.7,239.2 1399.9,225.8 1401.1,211.7 1402.4,198.3 1403.6,186.9 1404.8,178.9 1406.0,175.6 1407.2,181.2 1408.5,194.5 1409.7,212.6 1411.0,232.2 1412.2,250.2 1413.4,263.6 1414.7,269.2 1415.9,260.8 1417.1,241.1 1418.2,215.8 1419.4,190.4 1420.6,170.8 1421.8,162.3 1422.8,169.1 1423.9,185.4 1425.0,208.9 1426.0,237.1 1427.1,267.4 1428.1,317.5 1429.2,360.9 1430.1,372.9 1431.0,378.2 1431.5,371.9 1432.0,360.9 1433.2,332.0 1434.3,298.5 1435.5,267.4 1436.7,234.7 1438.0,204.0 1439.2,189.8 1440.5,196.7 1441.7,212.9 1443.0,233.8 1444.3,254.7 1445.5,270.9 1446.8,277.9 1448.0,272.6 1449.3,259.9 1450.5,242.2 1451.7,222.0 1452.9,201.8 1454.2,184.1 1455.4,171.3 1456.6,166.1 1457.8,170.9 1459.1,182.6 1460.3,198.2 1461.6,215.2 1462.8,230.9 1464.1,242.5 1465.3,247.3 1466.5,243.7 1467.7,234.8 1468.9,222.2 1470.1,207.4 1471.4,191.8 1472.6,177.0 1473.8,164.4 1475.0,155.5 1476.2,151.9 1477.4,154.8 1478.6,161.5 1479.7,170.2 1480.9,178.9 1482.1,185.6 1483.3,188.5 1484.5,184.3 1485.7,174.6 1486.9,163.3 1488.1,153.6 1489.3,149.4 1490.5,151.2 1491.7,155.5 1492.9,161.6 1494.1,168.9 1495.3,176.5 1496.5,183.7 1497.7,189.9 1498.9,194.2 1500.1,196.0 1501.4,193.6 1502.6,187.9 1503.8,179.6 1505.0,170.0 1506.2,159.8 1507.4,150.2 1508.6,142.0 1509.8,136.2 1511.0,133.8 1512.3,136.5 1513.6,142.9 1514.8,151.2 1516.1,159.4 1517.4,165.8 1518.6,168.6 1519.9,167.2 1521.1,163.9 1522.4,159.5 1523.6,154.7 1524.9,150.3 1526.1,147.0 1527.4,145.6 1528.5,147.6 1529.7,152.3 1530.9,158.4 1532.1,164.4 1533.3,169.1 1534.4,171.1 1535.7,169.1 1536.9,164.4 1538.1,157.9 1539.3,150.4 1540.6,142.9 1541.8,136.4 1543.0,131.6 1544.2,129.7 1545.4,132.0 1546.5,137.6 1547.7,145.3 1548.9,154.1 1550.0,162.9 1551.2,170.7 1552.3,176.2 1553.5,178.5 1554.7,176.6 1556.0,171.9 1557.2,165.5 1558.5,158.7 1559.7,152.3 1560.9,147.6 1562.2,145.6 1563.4,151.0 1564.6,163.0 1565.8,177.3 1567.0,189.4 1568.2,194.8 1569.4,191.3 1570.7,183.3 1572.0,172.9 1573.3,162.6 1574.5,154.6 1575.8,151.1 1577.0,158.4 1578.3,175.7 1579.5,199.0 1580.8,224.4 1582.0,247.7 1583.3,265.0 1584.5,272.3 1585.7,268.9 1586.9,261.7 1588.2,254.6 1589.4,251.2 1590.6,257.9 1591.9,273.8 1593.1,295.3 1594.4,318.6 1595.6,340.1 1596.9,356.0 1598.1,362.6 1599.4,352.4 1600.6,327.9 1601.8,294.8 1603.1,258.9 1604.3,225.8 1605.6,201.3 1606.8,191.0 1607.9,197.8 1609.0,213.0 1610.1,231.0 1611.2,246.2 1612.3,253.0 1613.4,248.1 1614.6,236.4 1615.8,220.6 1617.0,203.4 1618.2,187.6 1619.4,175.9 1620.6,171.0 1621.9,173.9 1623.2,180.3 1624.5,187.9 1625.8,194.3 1627.1,197.1 1628.3,193.4 1629.6,184.5 1630.8,172.1 1632.0,157.9 1633.2,143.7 1634.5,131.3 1635.7,122.4 1636.9,118.7 1638.2,120.5 1639.5,124.4 1640.8,129.1 1642.1,133.0 1643.5,134.8 1644.7,132.9 1646.0,128.4 1647.3,122.7 1648.5,117.0 1649.8,112.5 1651.1,110.6 1652.4,112.7 1653.7,117.4 1655.0,123.0 1656.3,127.7 1657.6,129.8 1658.8,128.0 1660.1,123.5 1661.3,117.3 1662.5,110.2 1663.7,103.2 1664.9,97.0 1666.2,92.5 1667.4,90.7 1668.6,92.6 1669.7,97.1 1670.9,103.2 1672.1,109.8 1673.2,115.9 1674.4,120.4 1675.6,122.3 1676.7,120.9 1677.7,118.0 1678.8,115.1 1679.9,113.7 1681.1,118.2 1682.4,128.9 1683.6,143.9 1684.8,161.0 1686.0,178.1 1687.3,193.1 1688.5,203.9 1689.7,208.3 1690.9,203.2 1692.1,191.6 1693.3,177.8 1694.5,166.2 1695.7,161.1 1696.9,170.6 1698.1,192.7 1699.2,221.3 1700.4,249.8 1701.6,272.0 1702.8,281.5 1703.9,279.4 1705.0,275.1 1706.0,270.7 1707.1,268.6 1708.4,272.5 1709.6,282.1 1710.8,295.8 1712.0,312.1 1712.6,326.7 1713.1,337.6 1714.2,333.2 1715.3,323.5 1716.4,312.1 1717.5,299.2 1718.6,283.4 1719.6,265.6 1720.7,247.0 1721.8,221.2 1722.9,193.3 1724.0,179.6 1725.3,183.6 1726.5,190.7 1727.8,194.6 1729.1,188.0 1730.4,172.7 1731.6,152.9 1732.9,133.2 1734.2,117.8 1735.4,111.2 1736.7,112.7 1738.0,116.0 1739.3,120.0 1740.7,123.3 1742.0,124.8 1743.3,121.9 1744.6,115.4 1745.9,107.6 1747.2,101.0 1748.5,98.1 1749.6,99.4 1750.7,102.3 1751.8,105.7 1752.8,108.6 1753.9,109.9 1755.2,107.9 1756.5,103.3 1757.8,96.8 1759.1,89.4 1760.4,81.9 1761.7,75.4 1763.0,70.8 1764.3,68.8 1765.5,71.0 1766.8,76.0 1768.1,82.5 1769.4,89.0 1770.6,94.0 1771.9,96.1 1773.1,94.9 1774.3,92.2 1775.6,89.5 1776.8,88.2 1778.1,91.0 1779.4,97.8 1780.7,106.5 1782.0,115.3 1783.3,122.3 1784.5,127.5 1785.8,132.5 1787.0,136.7 1788.2,139.8 1789.5,141.3 1790.8,142.4 1792.0,144.3 1793.3,153.1 1794.5,173.7 1795.8,209.1 1797.0,262.3 1797.1,278.6 1797.3,293.4 1798.2,307.1 1799.2,312.6 1800.2,318.4 1801.1,326.1 1802.0,334.1 1802.9,343.3 1804.2,365.0 1805.5,390.2 1806.7,402.7 1807.7,388.6 1808.6,363.0 1809.2,344.7 1809.8,324.6 1810.5,298.0 1811.3,274.7 1812.6,249.7 1813.8,230.0 1815.1,212.4 1816.4,194.0 1817.7,174.8 1819.0,155.5 1820.3,136.9 1821.6,119.7 1822.9,104.9 1824.2,93.1 1825.6,85.2 1826.9,81.9 1828.1,83.3 1829.3,86.6 1830.5,90.6 1831.6,93.9 1832.8,95.3 1834.0,93.5 1835.2,89.3 1836.4,83.9 1837.6,78.5 1838.7,74.3 1839.9,72.5 1841.2,73.4 1842.5,75.3 1843.8,77.6 1845.1,79.5 1846.5,80.4 1847.6,78.7 1848.8,74.6 1849.9,69.1 1851.1,63.2 1852.3,57.7 1853.4,53.7 1854.6,52.0 1855.8,53.7 1857.0,57.7 1858.2,63.3 1859.3,69.7 1860.5,75.9 1861.7,81.1 1863.0,85.1 1864.2,88.8 1865.5,94.8 1866.0,100.7 1866.6,109.8 1867.2,129.5 1867.9,152.2 1868.9,177.9 1869.9,201.2 1870.9,227.0 1872.2,269.2 1873.6,314.6 1873.9,327.8 1874.3,340.0 1875.4,366.0 1876.5,388.4 1877.6,414.8 1878.6,456.1 1879.5,503.3 1880.5,526.8 1881.4,514.2 1882.3,489.6 1883.1,457.3 1883.9,414.8 1884.4,379.1 1885.0,340.0 1885.5,298.3 1886.1,264.7 1887.2,231.8 1888.2,209.0 1889.3,189.9 1890.4,171.3 1891.6,154.0 1892.7,138.5 1893.8,125.3 1894.9,114.8 1896.0,106.4 1897.1,98.4 1898.2,91.7 1899.2,86.9 1900.3,85.0 1901.4,86.9 1902.5,90.8 1903.6,94.7 1904.7,96.6 1906.0,92.7 1907.2,83.7 1908.5,72.0 1909.8,60.4 1911.0,51.3 1912.3,47.5 1913.6,49.2 1914.9,53.2 1916.2,57.9 1917.5,61.8 1918.8,63.6 1920.1,62.3 1921.4,59.3 1922.6,55.5 1923.9,51.7 1925.2,48.7 1926.5,47.5 1927.5,50.2 1928.6,56.6 1929.7,64.9 1931.0,80.9 1932.2,104.9 1933.5,133.9 1934.7,164.6 1936.0,199.8 1937.2,240.6 1938.5,283.9 1939.7,326.7 1941.0,370.5 1942.3,414.8 1943.4,457.9 1944.4,484.4 1945.7,458.0 1947.0,414.8 1947.9,389.0 1948.8,362.9 1949.8,340.0 1950.7,323.7 1951.6,309.4 1952.5,289.6 1953.0,266.5 1953.6,239.8 1954.7,190.2 1955.8,152.2 1956.8,135.7 1957.7,123.1 1958.6,114.3 1959.8,105.3 1961.1,96.9 1962.4,89.2 1963.6,82.3 1964.9,76.4 1966.2,71.6 1967.5,67.9 1968.7,65.4 1970.0,64.4 1971.1,65.1 1972.2,66.5 1973.3,68.0 1974.4,68.7 1975.6,67.0 1976.9,63.1 1978.2,58.1 1979.4,53.0 1980.7,49.1 1982.0,47.5 1983.1,48.8 1984.3,52.2 1985.5,57.2 1986.6,63.8 1987.8,71.5 1989.0,80.3 1990.1,89.9 1991.2,104.1 1992.4,124.9 1993.5,149.8 1994.6,176.7 1995.7,203.0 1996.8,230.8 1997.9,260.5 1999.1,289.6 2000.4,318.8 2001.7,353.0 2002.2,378.7 2002.8,402.3 2003.5,418.9 2004.3,427.2 2005.2,428.6 2006.1,429.3 2007.0,429.6 2007.8,421.4 2008.6,402.3 2009.1,376.8 2009.6,340.0 2009.9,312.9 2010.2,289.6 2011.3,248.7 2012.4,222.7 2013.5,202.0 2014.6,183.5 2015.7,167.1 2016.8,152.6 2017.9,139.4 2019.0,127.2 2020.2,113.1 2021.5,98.6 2022.8,84.9 2024.1,73.4 2025.3,65.3 2026.6,61.9 2027.8,62.4 2029.0,63.4 2030.3,64.4 2031.5,64.9 2032.8,64.7 2034.1,64.2 2035.4,63.3 2036.7,62.0" stroke-width="9.20"/>
</g>
<g fill="none" stroke="#0070e4" stroke-linejoin="round" stroke-linecap="round">
<polyline points="214.4,1048.4 250.5,1048.4 251.3,1023.0 254.0,924.6 256.8,965.0 259.7,999.6 260.9,998.7 262.1,997.8 263.3,996.9 264.4,995.0 265.6,993.1 266.8,991.1 268.0,989.1 269.1,986.9 270.3,984.6 271.5,982.2 272.7,979.7 273.9,977.0 275.2,974.3 276.4,971.5 277.6,968.6 278.8,965.7 280.0,962.8 281.2,959.8 282.5,956.8 283.8,953.7 285.2,950.7 286.5,947.5 287.8,944.4 289.1,941.3 290.4,938.3 291.7,935.3 292.9,932.4 294.2,929.5 295.4,926.7 296.6,923.9 297.9,921.2 299.1,918.4 300.3,915.6 301.6,912.9 302.8,910.1 304.1,907.3 305.4,904.5 306.7,901.7 308.0,898.9 309.2,896.1 310.5,893.3 311.8,890.6 313.1,888.0 314.4,885.4 315.7,882.8 316.9,880.4 318.2,877.9 319.5,875.5 320.7,873.2 322.0,870.8 323.3,868.4 324.5,866.1 325.8,863.7 327.1,861.2 328.3,858.8 329.6,856.3 330.8,853.7 332.1,851.2 333.3,848.6 334.6,846.0 335.9,843.5 337.1,840.9 338.4,838.3 339.6,835.8 340.9,833.2 342.1,830.8 343.4,828.3 344.6,825.9 345.9,823.5 347.2,821.1 348.5,818.8 349.7,816.5 351.0,814.2 352.3,812.0 353.6,809.8 354.8,807.5 356.1,805.3 357.4,803.1 358.7,800.8 360.0,798.6 361.2,796.3 362.5,793.9 363.8,791.6 365.1,789.1 366.4,786.6 367.7,784.1 369.0,781.5 370.3,778.9 371.6,776.2 372.9,773.6 374.2,771.0 375.5,768.4 376.9,765.9 378.2,763.5 379.4,761.1 380.7,758.8 382.0,756.6 383.3,754.4 384.6,752.2 385.8,750.0 387.1,747.9 388.4,745.8 389.7,743.6 390.9,741.5 392.2,739.3 393.5,737.2 394.7,735.0 395.9,732.8 397.1,730.7 398.4,728.5 399.6,726.4 400.8,724.2 402.1,722.1 403.3,720.0 404.5,717.9 405.8,715.9 407.0,713.9 408.2,711.9 409.5,710.0 410.7,708.1 412.0,706.3 413.2,704.4 414.4,702.6 415.7,700.8 416.9,699.0 418.2,697.2 419.4,695.3 420.7,693.5 421.9,691.6 423.1,689.7 424.4,687.8 425.6,685.9 426.8,683.9 428.1,682.0 429.3,680.0 430.5,678.0 431.8,676.0 433.0,674.1 434.2,672.1 435.5,670.2 436.7,668.3 438.0,666.4 439.3,664.5 440.6,662.6 441.9,660.8 443.2,658.9 444.4,657.1 445.7,655.3 447.0,653.5 448.3,651.8 449.6,650.1 450.9,648.4 452.2,646.7 453.4,645.1 454.7,643.5 455.9,642.0 457.2,640.4 458.4,638.9 459.7,637.4 460.9,635.8 462.2,634.3 463.5,632.9 464.7,631.4 466.0,629.9 467.2,628.4 468.5,627.0 469.7,625.5 471.0,624.1 472.2,622.6 473.5,621.2 474.7,619.8 476.0,618.4 477.2,616.9 478.5,615.6 479.7,614.2 481.0,612.8 482.2,611.4 483.5,610.0 484.7,608.7 486.0,607.3 487.2,605.9 488.5,604.6 489.8,603.2 491.0,601.8 492.3,600.5 493.5,599.1 494.8,597.6 496.0,596.2 497.3,594.8 498.6,593.3 499.9,591.9 501.2,590.4 502.5,588.9 503.8,587.5 505.1,586.0 506.4,584.5 507.7,583.1 508.9,581.6 510.2,580.1 511.5,578.7 512.8,577.2 514.1,575.8 515.4,574.4 516.7,572.9 518.0,571.5 519.3,570.2 520.5,568.8 521.8,567.4 523.1,566.1 524.4,564.8 525.7,563.5 526.9,562.2 528.2,560.9 529.5,559.7 530.8,558.4 532.0,557.2 533.3,555.9 534.6,554.7 535.8,553.5 537.1,552.2 538.4,551.0 539.7,549.8 540.9,548.7 542.2,547.5 543.5,546.3 544.8,545.2 546.1,544.0 547.3,542.9 548.6,541.8 549.9,540.6 551.2,539.5 552.4,538.4 553.7,537.3 555.0,536.2 556.3,535.2 557.6,534.1 558.8,533.0 560.1,532.0 561.4,530.9 562.7,529.9 564.0,528.8 565.2,527.8 566.5,526.8 567.8,525.8 569.1,524.7 570.4,523.7 571.7,522.7 572.9,521.7 574.2,520.7 575.5,519.7 576.8,518.7 578.1,517.7 579.4,516.8 580.7,515.8 581.9,514.9 583.2,514.0 584.5,513.1 585.8,512.2 587.1,511.4 588.4,510.5 589.6,509.7 590.9,508.9 592.2,508.2 593.5,507.4 594.7,506.7 596.0,505.9 597.3,505.2 598.6,504.5 599.9,503.8 601.1,503.1 602.4,502.4 603.7,501.6 605.0,500.9 606.3,500.2 607.5,499.5 608.8,498.8 610.1,498.1 611.4,497.4 612.6,496.7 613.9,496.0 615.2,495.3 616.5,494.6 617.7,493.9 619.0,493.2 620.3,492.5 621.5,491.8 622.8,491.1 624.1,490.3 625.4,489.5 626.6,488.7 627.9,487.9 629.3,487.0 630.6,486.2 631.9,485.3 633.2,484.3 634.5,483.4 635.8,482.4 637.1,481.5 638.4,480.5 639.7,479.5 641.0,478.5 642.4,477.4 643.7,476.4 645.0,475.3 646.3,474.3 647.5,473.2 648.8,472.1 650.0,471.0 651.3,469.8 652.5,468.7 653.8,467.5 655.0,466.3 656.3,465.1 657.5,463.9 658.8,462.8 660.0,461.6 661.3,460.5 662.5,459.3 663.8,458.2 665.0,457.2 666.3,456.1 667.5,455.1 668.7,454.0 670.0,453.0 671.2,452.0 672.5,451.0 673.7,450.0 675.0,449.0 676.2,448.1 677.5,447.2 678.7,446.3 680.0,445.4 681.2,444.6 682.5,443.8 683.7,443.0 685.0,442.3 686.2,441.5 687.5,440.8 688.7,440.1 690.0,439.5 691.2,438.8 692.5,438.1 693.7,437.4 694.9,436.7 696.2,436.0 697.4,435.3 698.7,434.6 699.9,433.8 701.2,433.1 702.4,432.3 703.7,431.6 704.9,430.8 706.2,430.0 707.4,429.2 708.7,428.4 709.9,427.5 711.2,426.7 712.4,425.8 713.7,424.8 714.9,423.8 716.2,422.7 717.5,421.5 718.8,420.2 720.1,418.9 721.4,417.5 722.7,416.0 724.0,414.4 725.3,412.8 726.6,411.2 727.9,409.5 729.2,407.9 730.5,406.3 731.7,404.7 733.0,403.1 734.3,401.5 735.6,400.0 737.0,398.5 738.3,397.1 739.6,395.8 740.9,394.6 742.2,393.6 743.5,392.7 744.8,392.0 746.1,391.5 747.4,391.2 748.7,391.0 750.0,390.9 751.2,390.9 752.4,391.1 753.7,391.2 754.9,391.5 756.2,391.7 757.4,392.0 758.7,392.3 760.0,392.6 761.3,392.9 762.6,393.2 763.9,393.4 765.3,393.6 766.6,393.8 767.9,393.9 769.2,393.9 770.5,393.9 771.8,393.7 773.1,393.4 774.4,392.9 775.7,392.3 777.0,391.5 778.3,390.5 779.6,389.4 780.9,388.0 782.2,386.4 783.5,384.5 784.8,382.5 786.2,380.2 787.5,377.8 788.8,375.1 790.1,372.4 791.4,369.5 792.7,366.6 794.0,363.7 795.3,360.9 796.6,358.3 797.7,355.8 798.8,353.5 799.9,351.5 801.0,349.7 802.0,348.1 803.1,346.7 804.2,345.5 805.3,344.5 806.4,343.8 807.5,343.3 808.6,342.9 809.7,342.7 810.8,342.7 812.1,342.8 813.4,343.0 814.7,343.2 816.0,343.6 817.3,344.0 818.6,344.4 819.8,344.9 821.1,345.4 822.4,346.0 823.6,346.5 824.9,347.0 826.1,347.6 827.4,348.1 828.6,348.6 829.9,349.1 831.1,349.4 832.4,349.7 833.6,349.8 834.9,349.7 836.2,349.5 837.5,349.1 838.8,348.5 840.1,347.6 841.5,346.6 842.8,345.2 844.1,343.7 845.4,341.9 846.7,339.9 848.0,337.8 849.3,335.6 850.6,333.5 851.9,331.4 853.2,329.4 854.5,327.6 855.8,325.9 857.1,324.4 858.4,323.0 859.7,321.8 861.0,320.6 862.4,319.7 863.7,318.8 865.0,318.0 866.3,317.3 867.5,316.7 868.7,316.2 869.9,315.7 871.1,315.3 872.3,314.9 873.5,314.5 874.7,314.1 875.9,313.7 877.2,313.4 878.4,313.0 879.6,312.6 880.8,312.2 882.0,311.8 883.2,311.4 884.4,311.1 885.6,310.8 886.8,310.6 888.0,310.4 889.3,310.2 890.5,310.0 891.8,309.9 893.0,309.8 894.3,309.8 895.5,309.7 896.7,309.7 898.0,309.8 899.2,309.8 900.5,309.9 901.7,310.0 903.0,310.1 904.2,310.1 905.5,310.0 906.7,309.9 908.0,309.6 909.3,309.3 910.5,308.8 911.8,308.2 913.1,307.4 914.2,306.5 915.4,305.4 916.6,304.1 917.7,302.7 918.9,301.1 920.0,299.5 921.2,297.8 922.3,296.1 923.6,294.4 924.9,292.7 926.2,291.0 927.4,289.5 928.7,288.1 930.0,286.8 931.1,285.8 932.1,285.0 933.2,284.4 934.3,284.1 935.4,284.1 936.7,284.5 937.9,285.1 939.1,286.1 940.4,287.4 941.6,288.9 942.9,290.5 944.1,292.2 945.4,293.9 946.6,295.6 947.8,297.1 949.1,298.3 950.3,299.3 951.6,299.8 952.8,299.8 954.1,299.3 955.4,298.3 956.7,296.7 958.0,294.6 959.3,292.1 960.6,289.2 961.9,286.1 963.2,282.8 964.5,279.4 965.8,276.1 967.1,272.8 968.4,269.7 969.7,266.8 971.0,264.3 972.3,262.2 973.6,260.6 974.9,259.7 976.2,259.4 977.4,259.8 978.7,260.8 979.9,262.4 981.1,264.5 982.3,267.0 983.6,269.7 984.8,272.5 986.0,275.4 987.2,278.1 988.4,280.6 989.7,282.7 990.9,284.3 992.1,285.3 993.3,285.6 994.6,285.2 995.8,284.1 997.1,282.4 998.3,280.1 999.6,277.3 1000.8,274.2 1002.1,270.8 1003.3,267.3 1004.6,263.7 1005.8,260.2 1007.1,256.8 1008.3,253.7 1009.6,250.9 1010.8,248.6 1012.1,246.9 1013.3,245.8 1014.6,245.5 1015.8,245.8 1017.1,246.8 1018.4,248.4 1019.6,250.6 1020.9,253.0 1022.2,255.7 1023.5,258.5 1024.7,261.2 1026.0,263.7 1027.3,265.8 1028.6,267.4 1029.8,268.4 1031.1,268.7 1032.4,268.3 1033.6,267.2 1034.9,265.4 1036.1,262.9 1037.4,260.1 1038.7,256.9 1039.9,253.4 1041.2,249.9 1042.4,246.3 1043.7,242.9 1044.9,239.7 1046.2,236.8 1047.5,234.4 1048.7,232.6 1050.0,231.5 1051.2,231.0 1052.5,231.3 1053.8,232.3 1055.1,233.9 1056.4,236.0 1057.6,238.5 1058.9,241.2 1060.2,243.9 1061.5,246.6 1062.8,249.0 1064.0,251.1 1065.3,252.7 1066.6,253.7 1067.9,253.9 1069.1,253.4 1070.4,252.2 1071.6,250.2 1072.9,247.6 1074.1,244.5 1075.4,241.1 1076.6,237.5 1077.9,233.8 1079.1,230.2 1080.4,226.8 1081.6,223.7 1082.9,221.1 1084.1,219.2 1085.4,218.1 1086.6,217.8 1087.8,218.4 1089.0,219.9 1090.2,222.2 1091.4,225.1 1092.6,228.5 1093.9,232.1 1095.1,235.7 1096.3,239.1 1097.5,242.0 1098.7,244.3 1099.9,245.7 1101.1,246.1 1102.4,245.5 1103.6,243.9 1104.9,241.3 1106.2,238.0 1107.5,234.2 1108.7,230.0 1110.0,225.7 1111.3,221.5 1112.5,217.6 1113.8,214.3 1115.1,211.8 1116.4,210.1 1117.6,209.4 1118.8,209.6 1120.0,210.8 1121.3,212.7 1122.5,215.2 1123.7,218.2 1124.9,221.3 1126.1,224.4 1127.3,227.3 1128.5,229.9 1129.7,231.8 1130.9,233.0 1132.1,233.5 1133.4,233.0 1134.6,231.8 1135.9,229.8 1137.1,227.2 1138.4,224.2 1139.6,220.9 1140.9,217.5 1142.2,214.2 1143.4,211.2 1144.7,208.6 1145.9,206.6 1147.2,205.3 1148.4,204.7 1149.7,204.9 1151.1,205.7 1152.4,207.1 1153.7,208.8 1155.0,210.8 1156.3,212.8 1157.6,214.5 1158.9,216.0 1160.2,217.0 1161.5,217.5 1162.7,217.5 1164.0,217.0 1165.2,216.2 1166.4,215.0 1167.6,213.7 1168.9,212.2 1170.1,210.8 1171.3,209.5 1172.5,208.3 1173.7,207.4 1175.0,206.9 1176.2,206.8 1177.5,207.2 1178.7,207.9 1180.0,209.0 1181.3,210.3 1182.5,211.7 1183.8,213.0 1185.1,214.0 1186.4,214.6 1187.6,214.6 1188.8,214.1 1190.1,212.9 1191.3,211.2 1192.5,209.0 1193.7,206.7 1194.9,204.3 1196.1,202.2 1197.3,200.5 1198.6,199.5 1199.8,199.2 1201.0,199.7 1202.3,201.0 1203.5,203.0 1204.8,205.4 1206.0,208.2 1207.3,210.9 1208.5,213.4 1209.8,215.3 1211.0,216.4 1212.3,216.5 1213.5,215.5 1214.7,213.5 1216.0,210.4 1217.2,206.5 1218.4,202.0 1219.6,197.3 1220.9,192.5 1222.1,188.0 1223.3,184.1 1224.5,181.2 1225.8,179.6 1227.0,179.6 1228.3,181.2 1229.6,184.4 1230.9,189.1 1232.2,194.9 1233.5,201.3 1234.8,207.7 1236.1,213.5 1237.4,218.1 1238.7,220.9 1240.0,221.8 1241.3,220.5 1242.6,217.3 1243.8,212.4 1245.1,206.1 1246.3,199.1 1247.6,192.2 1248.8,185.9 1250.1,180.9 1251.3,177.6 1252.6,176.2 1253.8,176.7 1255.0,179.1 1256.2,183.1 1257.4,188.2 1258.6,193.8 1259.7,199.5 1260.9,204.6 1262.1,208.7 1263.3,211.4 1264.5,212.7 1265.7,212.4 1266.9,210.7 1268.1,207.8 1269.3,204.1 1270.5,199.9 1271.7,195.8 1272.9,192.1 1274.1,189.1 1275.3,187.0 1276.5,186.1 1277.7,186.3 1278.9,187.5 1280.1,189.5 1281.3,192.0 1282.6,194.8 1283.8,197.3 1285.0,199.2 1286.2,200.0 1287.4,199.4 1288.6,197.5 1289.9,194.2 1291.1,190.1 1292.4,185.5 1293.6,181.5 1294.9,178.6 1296.1,177.5 1297.4,178.3 1298.6,181.0 1299.9,185.4 1301.1,191.1 1302.4,197.3 1303.6,203.6 1304.9,209.2 1306.1,213.5 1307.4,215.9 1308.6,215.8 1309.9,213.2 1311.2,208.1 1312.4,200.9 1313.7,192.1 1315.0,182.8 1316.2,174.1 1317.5,167.1 1318.8,162.6 1320.1,161.2 1321.3,163.1 1322.6,168.1 1323.9,175.7 1325.1,185.1 1326.4,195.1 1327.7,204.5 1328.9,212.2 1330.2,217.4 1331.5,219.9 1332.7,219.4 1333.9,216.3 1335.1,210.9 1336.3,204.0 1337.5,196.7 1338.7,189.9 1339.9,184.4 1341.2,181.2 1342.4,180.4 1343.5,182.2 1344.7,186.2 1345.9,191.9 1347.0,198.3 1348.2,203.8 1349.4,207.2 1350.5,207.8 1351.8,205.4 1353.0,200.1 1354.3,192.8 1355.5,184.6 1356.8,177.3 1358.0,172.2 1359.2,170.2 1360.4,171.8 1361.6,176.9 1362.8,185.1 1364.0,195.7 1365.2,207.3 1366.4,219.0 1367.6,229.5 1368.8,237.7 1370.0,242.6 1371.2,243.5 1372.4,240.2 1373.6,233.1 1374.8,222.6 1376.0,209.7 1377.2,196.0 1378.4,183.1 1379.6,172.7 1380.8,165.7 1382.0,162.9 1383.3,164.5 1384.6,170.1 1385.8,179.0 1387.1,190.3 1388.4,202.3 1389.7,213.5 1390.9,221.6 1392.2,224.4 1393.5,221.8 1394.7,215.7 1395.9,208.3 1397.1,200.3 1398.4,193.0 1399.6,188.4 1400.9,188.5 1402.1,193.2 1403.4,200.8 1404.6,209.1 1405.9,217.4 1407.1,224.9 1408.4,230.6 1409.6,233.4 1410.9,233.0 1412.0,229.0 1413.2,221.7 1414.4,211.7 1415.5,200.0 1416.7,188.4 1417.8,178.8 1419.0,172.7 1420.1,171.2 1421.3,174.5 1422.4,182.3 1423.6,193.8 1424.8,207.5 1425.9,221.2 1427.1,232.7 1428.2,240.3 1429.4,243.3 1430.6,241.4 1431.9,235.2 1433.1,225.8 1434.4,215.1 1435.6,205.4 1436.9,198.1 1438.1,194.0 1439.3,193.3 1440.4,195.8 1441.6,200.7 1442.8,206.6 1443.9,211.7 1445.1,214.9 1446.3,215.6 1447.5,213.5 1448.7,208.6 1449.9,201.4 1451.2,192.9 1452.4,184.3 1453.6,177.3 1454.8,172.8 1456.1,171.4 1457.2,173.5 1458.4,178.8 1459.5,186.6 1460.7,196.0 1461.8,205.4 1463.0,213.1 1464.2,218.1 1465.3,219.7 1466.6,217.6 1467.9,212.0 1469.2,203.6 1470.5,193.5 1471.8,183.4 1473.1,175.0 1474.4,169.1 1475.7,166.3 1476.9,166.5 1478.2,169.4 1479.5,173.9 1480.7,178.4 1482.0,181.7 1483.3,182.9 1484.5,181.8 1485.8,178.6 1487.1,174.2 1488.3,169.6 1489.6,166.0 1490.9,164.3 1492.0,164.7 1493.2,167.4 1494.4,171.8 1495.5,177.3 1496.7,182.8 1497.8,187.1 1499.0,189.3 1500.1,188.8 1501.4,185.6 1502.6,179.8 1503.9,172.2 1505.1,163.7 1506.4,156.1 1507.6,150.1 1508.8,146.7 1510.0,145.9 1511.2,147.6 1512.3,151.3 1513.5,156.1 1514.6,160.9 1515.8,164.9 1516.9,167.5 1518.1,168.5 1519.4,167.8 1520.6,165.8 1521.9,163.0 1523.2,160.1 1524.5,157.9 1525.7,157.0 1526.9,157.5 1528.1,159.3 1529.2,162.2 1530.4,165.6 1531.6,168.4 1532.7,170.1 1533.9,170.2 1535.1,168.5 1536.3,165.0 1537.6,160.1 1538.8,154.2 1540.0,148.4 1541.2,143.6 1542.5,140.6 1543.7,139.8 1544.8,141.3 1546.0,145.1 1547.2,150.7 1548.3,157.3 1549.5,164.0 1550.6,169.7 1551.8,173.6 1552.9,175.6 1554.1,175.5 1555.3,173.6 1556.4,170.3 1557.6,166.5 1558.8,163.5 1559.9,162.6 1561.1,164.2 1562.4,168.1 1563.7,173.4 1565.0,178.7 1566.3,182.9 1567.6,184.9 1568.9,183.8 1570.2,179.7 1571.4,173.6 1572.7,167.3 1574.0,163.0 1575.2,161.9 1576.4,164.6 1577.6,171.1 1578.7,180.9 1579.9,192.6 1581.0,204.2 1582.2,214.0 1583.3,220.6 1584.5,223.5 1585.7,223.0 1586.9,220.0 1588.1,216.4 1589.3,214.1 1590.5,214.7 1591.8,218.8 1593.0,226.3 1594.3,235.7 1595.6,245.0 1596.8,251.7 1598.1,254.2 1599.3,251.9 1600.4,244.7 1601.6,234.0 1602.8,221.8 1603.9,211.0 1605.1,203.3 1606.3,199.7 1607.4,200.0 1608.5,203.3 1609.6,208.0 1610.8,212.4 1611.9,215.0 1613.1,214.8 1614.4,211.7 1615.6,206.2 1616.9,199.6 1618.1,193.8 1619.3,189.5 1620.6,187.3 1621.9,187.4 1623.1,189.3 1624.4,192.4 1625.7,195.4 1626.9,196.7 1628.2,195.5 1629.5,191.5 1630.7,184.7 1631.9,176.0 1633.2,166.4 1634.4,157.7 1635.7,151.0 1636.9,147.0 1638.1,145.8 1639.3,147.1 1640.5,150.0 1641.6,153.2 1642.8,155.4 1644.0,155.9 1645.3,154.6 1646.5,151.7 1647.8,147.9 1649.1,144.0 1650.3,141.4 1651.6,140.5 1652.9,141.6 1654.2,144.5 1655.4,148.5 1656.7,152.2 1658.0,154.3 1659.2,153.9 1660.5,150.8 1661.8,145.3 1663.0,138.5 1664.3,131.7 1665.6,126.3 1666.9,123.4 1668.1,123.4 1669.3,126.4 1670.6,131.4 1671.8,137.5 1673.1,142.8 1674.3,146.7 1675.6,148.7 1676.7,148.8 1677.7,147.5 1678.8,146.1 1679.9,146.2 1681.0,149.0 1682.2,154.7 1683.4,163.0 1684.5,172.8 1685.7,182.4 1686.9,190.4 1688.1,195.3 1689.3,196.6 1690.4,194.7 1691.6,190.5 1692.8,186.6 1694.0,185.5 1695.2,188.1 1696.5,194.2 1697.8,202.5 1699.1,211.2 1700.4,219.2 1701.7,224.7 1702.9,226.6 1704.1,225.2 1705.3,222.1 1706.5,219.4 1707.7,219.3 1708.9,222.2 1710.2,228.0 1711.5,235.7 1712.8,243.0 1714.0,247.5 1715.3,247.7 1716.6,243.3 1717.8,234.7 1719.1,223.8 1720.4,212.5 1721.6,203.0 1722.9,196.4 1724.1,192.8 1725.4,191.3 1726.6,190.0 1727.8,187.3 1729.1,181.8 1730.4,173.7 1731.6,164.1 1732.9,154.4 1734.2,146.3 1735.4,141.1 1736.7,139.4 1738.0,140.8 1739.2,144.4 1740.5,148.3 1741.8,150.5 1743.1,150.5 1744.4,148.1 1745.7,144.2 1747.0,139.6 1748.3,135.4 1749.6,132.5 1750.8,131.5 1752.0,132.2 1753.2,133.8 1754.4,135.0 1755.6,134.7 1756.7,132.3 1757.9,128.0 1759.1,122.0 1760.2,115.5 1761.4,109.7 1762.6,105.9 1763.7,104.6 1765.0,106.0 1766.3,109.7 1767.5,114.7 1768.8,119.8 1770.1,123.9 1771.4,126.3 1772.4,127.0 1773.5,127.1 1774.6,127.6 1775.7,129.6 1776.9,133.8 1778.2,140.7 1779.4,149.5 1780.7,159.3 1781.9,168.2 1783.2,175.1 1784.4,179.4 1785.5,181.1 1786.6,180.6 1787.7,179.9 1788.8,181.3 1789.9,186.1 1790.9,194.2 1792.0,204.3 1793.1,214.2 1794.2,222.9 1795.3,228.7 1796.5,230.3 1797.7,228.0 1798.9,224.0 1800.1,221.0 1801.3,221.2 1802.6,225.0 1803.9,231.5 1805.2,238.5 1806.5,243.8 1807.8,245.1 1809.0,241.3 1810.2,232.5 1811.3,220.6 1812.5,207.9 1813.7,196.4 1814.9,187.6 1816.1,182.1 1817.3,179.8 1818.5,178.6 1819.7,175.8 1820.9,169.5 1822.2,160.3 1823.5,149.6 1824.8,138.9 1826.1,129.0 1827.4,121.2 1828.5,116.9 1829.6,116.2 1830.7,117.9 1831.8,119.9 1832.8,120.5 1834.0,119.4 1835.2,117.0 1836.4,114.0 1837.6,111.3 1838.8,109.6 1840.0,109.5 1841.2,111.1 1842.4,113.7 1843.5,116.5 1844.7,118.3 1845.9,118.6 1847.1,117.2 1848.2,114.2 1849.4,110.0 1850.6,105.2 1851.7,101.3 1852.9,99.4 1854.1,100.1 1855.2,103.6 1856.4,109.4 1857.6,116.6 1858.8,124.4 1860.0,131.6 1861.1,137.6 1862.2,142.1 1863.3,147.1 1864.4,155.3 1865.5,167.3 1866.6,183.1 1867.7,214.5 1868.8,232.9 1869.7,245.1 1870.6,262.6 1871.5,264.3 1872.6,273.5 1873.7,281.6 1874.8,280.5 1875.8,280.1 1876.9,281.7 1878.0,282.6 1879.1,281.1 1880.2,276.9 1881.5,270.0 1882.7,258.1 1884.0,240.5 1885.1,220.2 1886.2,201.7 1887.3,187.2 1888.4,176.8 1889.7,170.0 1891.0,166.9 1892.3,165.9 1893.6,164.3 1894.9,160.2 1896.2,153.9 1897.5,146.4 1898.8,138.8 1900.1,131.9 1901.4,126.7 1902.5,124.3 1903.6,124.4 1904.7,126.0 1905.8,127.1 1906.9,126.2 1908.0,122.9 1909.2,117.5 1910.4,110.7 1911.6,104.1 1912.8,99.1 1913.9,96.5 1915.2,96.0 1916.4,96.9 1917.6,98.5 1918.8,100.0 1920.1,100.6 1921.3,101.0 1922.5,102.1 1923.7,104.8 1925.0,109.7 1926.2,117.0 1927.4,126.6 1928.6,138.0 1929.9,150.4 1931.2,162.8 1932.4,175.1 1933.7,187.6 1934.9,201.1 1936.2,215.6 1937.5,231.5 1938.5,248.2 1939.6,264.4 1940.9,275.8 1942.1,281.1 1943.3,282.5 1944.6,280.1 1945.9,274.0 1947.0,264.3 1948.1,252.3 1949.2,241.1 1950.3,230.7 1951.4,218.7 1952.7,205.0 1954.0,190.0 1955.2,175.1 1956.5,161.6 1957.8,150.7 1959.1,143.2 1960.2,139.2 1961.3,138.3 1962.4,138.7 1963.5,138.2 1964.6,135.4 1965.9,130.4 1967.2,124.0 1968.5,117.4 1969.8,111.2 1971.1,106.4 1972.3,103.5 1973.5,102.4 1974.8,102.1 1976.0,101.5 1977.2,99.6 1978.3,96.1 1979.5,91.7 1980.7,87.7 1981.9,85.5 1983.1,86.1 1984.4,89.7 1985.7,96.0 1987.0,103.8 1988.3,112.6 1989.6,121.5 1990.7,129.9 1991.8,139.2 1992.9,151.2 1993.9,166.7 1995.2,185.6 1996.4,214.6 1997.7,231.7 1999.0,247.6 1999.4,260.6 1999.9,260.6 2001.0,269.5 2002.1,274.3 2003.2,276.1 2004.3,276.7 2005.4,274.9 2006.5,270.8 2007.6,263.2 2008.3,262.0 2009.1,252.0 2010.2,237.4 2011.3,220.9 2012.4,193.7 2013.5,177.0 2014.6,163.6 2015.9,154.6 2017.2,150.0 2018.5,148.0 2019.9,145.6 2021.2,140.8 2022.4,134.0 2023.6,126.2 2024.7,118.5 2025.9,110.9 2027.1,104.3 2028.2,99.8 2029.3,97.6 2030.4,97.3 2031.5,97.7 2032.8,97.8 2034.1,98.0 2035.4,98.0 2036.7,97.8" stroke-width="9.20"/>
</g>
<g fill="none" stroke="#00af67" stroke-linejoin="round" stroke-linecap="round">
<polyline points="214.4,1048.4 250.5,1048.4 251.3,1023.0 254.0,924.6 256.8,965.0 259.7,1001.8 260.9,1000.2 262.1,998.5 263.3,996.7 264.4,994.9 265.6,993.0 266.8,991.0 268.0,988.9 269.1,986.8 270.3,984.6 271.5,982.2 272.7,979.6 273.9,976.9 275.2,974.1 276.4,971.3 277.6,968.4 278.8,965.5 280.0,962.6 281.2,959.7 282.5,956.6 283.8,953.5 285.2,950.4 286.5,947.2 287.8,944.1 289.1,941.0 290.4,937.9 291.7,934.8 292.9,932.0 294.2,929.2 295.4,926.4 296.6,923.6 297.9,920.8 299.1,918.1 300.3,915.3 301.6,912.6 302.8,909.9 304.1,907.1 305.4,904.2 306.7,901.4 308.0,898.6 309.2,895.7 310.5,893.0 311.8,890.2 313.1,887.5 314.4,884.9 315.7,882.4 316.9,880.0 318.2,877.6 319.5,875.2 320.7,872.9 322.0,870.5 323.3,868.2 324.5,865.8 325.8,863.4 327.1,861.0 328.3,858.5 329.6,856.0 330.8,853.5 332.1,850.9 333.3,848.3 334.6,845.7 335.9,843.1 337.1,840.6 338.4,838.0 339.6,835.4 340.9,832.9 342.1,830.4 343.4,827.9 344.6,825.5 345.9,823.1 347.2,820.8 348.5,818.4 349.7,816.2 351.0,813.9 352.3,811.7 353.6,809.4 354.8,807.2 356.1,805.0 357.4,802.8 358.7,800.5 360.0,798.3 361.2,796.0 362.5,793.7 363.8,791.4 365.1,789.0 366.4,786.5 367.7,783.9 369.0,781.3 370.3,778.6 371.6,775.9 372.9,773.3 374.2,770.6 375.5,768.0 376.9,765.5 378.2,763.0 379.4,760.7 380.7,758.4 382.0,756.2 383.3,754.0 384.6,751.9 385.8,749.7 387.1,747.6 388.4,745.5 389.7,743.3 390.9,741.2 392.2,739.0 393.5,736.9 394.7,734.7 395.9,732.6 397.1,730.4 398.4,728.2 399.6,726.0 400.8,723.9 402.1,721.7 403.3,719.6 404.5,717.5 405.8,715.5 407.0,713.5 408.2,711.5 409.5,709.6 410.7,707.8 412.0,705.9 413.2,704.1 414.4,702.3 415.7,700.5 416.9,698.7 418.2,696.9 419.4,695.1 420.7,693.2 421.9,691.4 423.1,689.5 424.4,687.6 425.6,685.6 426.8,683.7 428.1,681.7 429.3,679.7 430.5,677.7 431.8,675.7 433.0,673.7 434.2,671.8 435.5,669.9 436.7,668.0 438.0,666.1 439.3,664.2 440.6,662.3 441.9,660.4 443.2,658.6 444.4,656.8 445.7,655.0 447.0,653.2 448.3,651.4 449.6,649.7 450.9,648.0 452.2,646.4 453.4,644.8 454.7,643.2 455.9,641.6 457.2,640.1 458.4,638.5 459.7,637.0 460.9,635.5 462.2,634.0 463.5,632.5 464.7,631.1 466.0,629.6 467.2,628.1 468.5,626.7 469.7,625.2 471.0,623.8 472.2,622.3 473.5,620.9 474.7,619.4 476.0,618.0 477.2,616.6 478.5,615.2 479.7,613.9 481.0,612.5 482.2,611.1 483.5,609.7 484.7,608.4 486.0,607.0 487.2,605.6 488.5,604.3 489.8,602.9 491.0,601.5 492.3,600.2 493.5,598.8 494.8,597.4 496.0,596.0 497.3,594.5 498.6,593.1 499.9,591.6 501.2,590.1 502.5,588.7 503.8,587.2 505.1,585.7 506.4,584.2 507.7,582.8 508.9,581.3 510.2,579.8 511.5,578.4 512.8,576.9 514.1,575.5 515.4,574.0 516.7,572.6 518.0,571.2 519.3,569.8 520.5,568.5 521.8,567.1 523.1,565.8 524.4,564.5 525.7,563.2 526.9,561.9 528.2,560.6 529.5,559.3 530.8,558.1 532.0,556.8 533.3,555.6 534.6,554.4 535.8,553.1 537.1,551.9 538.4,550.7 539.7,549.5 540.9,548.3 542.2,547.2 543.5,546.0 544.8,544.8 546.1,543.7 547.3,542.6 548.6,541.4 549.9,540.3 551.2,539.2 552.4,538.1 553.7,537.0 555.0,535.9 556.3,534.9 557.6,533.8 558.8,532.7 560.1,531.7 561.4,530.6 562.7,529.6 564.0,528.5 565.2,527.5 566.5,526.5 567.8,525.4 569.1,524.4 570.4,523.4 571.7,522.4 572.9,521.4 574.2,520.4 575.5,519.4 576.8,518.4 578.1,517.4 579.4,516.4 580.7,515.5 581.9,514.5 583.2,513.6 584.5,512.7 585.8,511.9 587.1,511.0 588.4,510.2 589.6,509.4 590.9,508.6 592.2,507.8 593.5,507.1 594.7,506.3 596.0,505.6 597.3,504.9 598.6,504.2 599.9,503.5 601.1,502.8 602.4,502.1 603.7,501.4 605.0,500.6 606.3,499.9 607.5,499.2 608.8,498.5 610.1,497.8 611.4,497.1 612.6,496.4 613.9,495.7 615.2,495.0 616.5,494.3 617.7,493.6 619.0,493.0 620.3,492.2 621.5,491.5 622.8,490.8 624.1,490.1 625.4,489.3 626.6,488.5 627.9,487.7 629.3,486.8 630.6,485.9 631.9,485.0 633.2,484.1 634.5,483.1 635.8,482.2 637.1,481.2 638.4,480.2 639.7,479.2 641.0,478.2 642.4,477.2 643.7,476.1 645.0,475.1 646.3,474.0 647.5,472.9 648.8,471.9 650.0,470.7 651.3,469.6 652.5,468.4 653.8,467.2 655.0,466.0 656.3,464.8 657.5,463.6 658.8,462.4 660.0,461.2 661.3,460.1 662.5,459.0 663.8,457.9 665.0,456.8 666.3,455.8 667.5,454.8 668.7,453.7 670.0,452.7 671.2,451.7 672.5,450.7 673.7,449.7 675.0,448.7 676.2,447.7 677.5,446.8 678.7,445.9 680.0,445.0 681.2,444.2 682.5,443.4 683.7,442.6 685.0,441.9 686.2,441.2 687.5,440.5 688.7,439.8 690.0,439.2 691.2,438.5 692.5,437.8 693.7,437.2 694.9,436.5 696.2,435.8 697.4,435.0 698.7,434.3 699.9,433.5 701.2,432.8 702.4,432.0 703.7,431.3 704.9,430.5 706.2,429.7 707.4,428.9 708.7,428.1 709.9,427.3 711.2,426.4 712.4,425.5 713.7,424.6 714.9,423.6 716.2,422.6 717.5,421.4 718.8,420.1 720.1,418.7 721.4,417.3 722.7,415.8 724.0,414.2 725.3,412.6 726.6,410.9 727.9,409.2 729.2,407.6 730.5,405.9 731.7,404.3 733.0,402.7 734.3,401.2 735.6,399.7 737.0,398.2 738.3,396.6 739.6,395.1 740.9,393.8 742.2,392.9 743.5,392.1 744.8,391.5 746.1,390.9 747.4,390.5 748.7,390.4 750.0,390.4 751.2,390.5 752.4,390.7 753.7,390.9 754.9,391.1 756.2,391.4 757.4,391.6 758.7,391.9 760.0,392.3 761.3,392.6 762.6,393.0 763.9,393.2 765.3,393.4 766.6,393.6 767.9,393.7 769.2,393.8 770.5,393.8 771.8,393.7 773.1,393.4 774.4,392.9 775.7,392.3 777.0,391.6 778.3,390.7 779.6,389.5 780.9,388.1 782.2,386.5 783.5,384.8 784.8,382.7 786.2,380.4 787.5,377.8 788.8,375.0 790.1,372.3 791.4,369.4 792.7,366.3 794.0,363.2 795.3,360.2 796.6,357.3 797.7,355.1 798.8,352.9 799.9,350.8 801.0,349.0 802.0,347.4 803.1,346.0 804.2,344.7 805.3,343.6 806.4,343.0 807.5,342.7 808.6,342.4 809.7,342.2 810.8,342.1 812.1,342.2 813.4,342.5 814.7,342.8 816.0,343.2 817.3,343.6 818.6,344.0 819.8,344.5 821.1,345.1 822.4,345.7 823.6,346.2 824.9,346.7 826.1,347.3 827.4,347.8 828.6,348.4 829.9,349.0 831.1,349.4 832.4,349.7 833.6,349.9 834.9,349.7 836.2,349.5 837.5,349.1 838.8,348.6 840.1,348.0 841.5,347.0 842.8,345.6 844.1,343.8 845.4,341.8 846.7,339.9 848.0,337.8 849.3,335.4 850.6,333.0 851.9,330.7 853.2,328.7 854.5,326.9 855.8,325.3 857.1,323.8 858.4,322.4 859.7,321.2 861.0,320.1 862.4,319.2 863.7,318.3 865.0,317.5 866.3,316.8 867.5,316.3 868.7,315.8 869.9,315.4 871.1,315.0 872.3,314.6 873.5,314.2 874.7,313.8 875.9,313.5 877.2,313.1 878.4,312.7 879.6,312.3 880.8,311.9 882.0,311.5 883.2,311.1 884.4,310.7 885.6,310.4 886.8,310.2 888.0,310.0 889.3,309.8 890.5,309.7 891.8,309.6 893.0,309.5 894.3,309.4 895.5,309.4 896.7,309.3 898.0,309.4 899.2,309.5 900.5,309.6 901.7,309.7 903.0,309.8 904.2,309.9 905.5,310.0 906.7,309.9 908.0,309.6 909.3,309.2 910.5,308.7 911.8,308.1 913.1,307.5 914.2,306.7 915.4,305.5 916.6,304.1 917.7,302.6 918.9,300.9 920.0,299.2 921.2,297.5 922.3,296.0 923.6,294.2 924.9,292.4 926.2,290.5 927.4,288.7 928.7,287.2 930.0,286.0 931.1,285.2 932.1,284.4 933.2,283.7 934.3,283.2 935.4,283.0 936.7,283.3 937.9,284.1 939.1,285.2 940.4,286.6 941.6,288.3 942.9,290.1 944.1,291.9 945.4,293.8 946.6,295.6 947.8,297.2 949.1,298.6 950.3,299.8 951.6,300.5 952.8,300.8 954.1,300.3 955.4,299.2 956.7,297.4 958.0,295.1 959.3,292.5 960.6,289.4 961.9,286.1 963.2,282.7 964.5,279.1 965.8,275.6 967.1,272.1 968.4,268.9 969.7,265.8 971.0,263.1 972.3,260.9 973.6,259.1 974.9,257.9 976.2,257.5 977.4,258.0 978.7,259.2 979.9,261.1 981.1,263.4 982.3,266.2 983.6,269.1 984.8,272.2 986.0,275.3 987.2,278.3 988.4,281.0 989.7,283.4 990.9,285.3 992.1,286.5 993.3,287.0 994.6,286.5 995.8,285.2 997.1,283.2 998.3,280.7 999.6,277.7 1000.8,274.4 1002.1,270.8 1003.3,267.1 1004.6,263.3 1005.8,259.6 1007.1,256.0 1008.3,252.7 1009.6,249.7 1010.8,247.2 1012.1,245.3 1013.3,244.0 1014.6,243.4 1015.8,243.9 1017.1,245.2 1018.4,247.2 1019.6,249.6 1020.9,252.3 1022.2,255.3 1023.5,258.3 1024.7,261.3 1026.0,264.0 1027.3,266.5 1028.6,268.4 1029.8,269.7 1031.1,270.2 1032.4,269.6 1033.6,268.3 1034.9,266.2 1036.1,263.6 1037.4,260.5 1038.7,257.0 1039.9,253.4 1041.2,249.6 1042.4,245.8 1043.7,242.1 1044.9,238.7 1046.2,235.6 1047.5,233.0 1048.7,230.9 1050.0,229.5 1051.2,229.0 1052.5,229.5 1053.8,230.8 1055.1,232.7 1056.4,235.1 1057.6,237.8 1058.9,240.7 1060.2,243.7 1061.5,246.7 1062.8,249.4 1064.0,251.8 1065.3,253.7 1066.6,255.0 1067.9,255.5 1069.1,254.9 1070.4,253.4 1071.6,251.1 1072.9,248.3 1074.1,244.9 1075.4,241.2 1076.6,237.3 1077.9,233.4 1079.1,229.5 1080.4,225.8 1081.6,222.5 1082.9,219.6 1084.1,217.4 1085.4,215.9 1086.6,215.2 1087.8,216.0 1089.0,217.9 1090.2,220.6 1091.4,224.0 1092.6,227.8 1093.9,231.8 1095.1,235.9 1096.3,239.7 1097.5,243.1 1098.7,245.8 1099.9,247.6 1101.1,248.4 1102.4,247.6 1103.6,245.5 1104.9,242.6 1106.2,238.8 1107.5,234.5 1108.7,229.9 1110.0,225.2 1111.3,220.5 1112.5,216.2 1113.8,212.5 1115.1,209.5 1116.4,207.5 1117.6,206.6 1118.8,207.3 1120.0,208.9 1121.3,211.3 1122.5,214.2 1123.7,217.5 1124.9,221.0 1126.1,224.5 1127.3,227.8 1128.5,230.7 1129.7,233.1 1130.9,234.7 1132.1,235.3 1133.4,234.7 1134.6,233.1 1135.9,230.7 1137.1,227.8 1138.4,224.4 1139.6,220.8 1140.9,217.1 1142.2,213.4 1143.4,210.1 1144.7,207.1 1145.9,204.8 1147.2,203.2 1148.4,202.5 1149.7,203.0 1151.1,204.3 1152.4,206.0 1153.7,208.2 1155.0,210.5 1156.3,212.8 1157.6,215.0 1158.9,216.7 1160.2,218.0 1161.5,218.5 1162.7,218.2 1164.0,217.5 1165.2,216.4 1166.4,215.0 1167.6,213.5 1168.9,211.9 1170.1,210.3 1171.3,208.8 1172.5,207.5 1173.7,206.4 1175.0,205.7 1176.2,205.4 1177.5,205.8 1178.7,206.8 1180.0,208.2 1181.3,209.8 1182.5,211.6 1183.8,213.2 1185.1,214.6 1186.4,215.6 1187.6,216.0 1188.8,215.4 1190.1,213.9 1191.3,211.8 1192.5,209.2 1193.7,206.4 1194.9,203.6 1196.1,201.0 1197.3,198.9 1198.6,197.4 1199.8,196.8 1201.0,197.5 1202.3,199.2 1203.5,201.7 1204.8,204.6 1206.0,207.9 1207.3,211.1 1208.5,214.1 1209.8,216.5 1211.0,218.3 1212.3,219.0 1213.5,218.0 1214.7,215.5 1216.0,211.9 1217.2,207.4 1218.4,202.3 1219.6,197.0 1220.9,191.6 1222.1,186.5 1223.3,182.0 1224.5,178.4 1225.8,176.0 1227.0,175.0 1228.3,176.6 1229.6,180.6 1230.9,186.4 1232.2,193.4 1233.5,201.0 1234.8,208.6 1236.1,215.6 1237.4,221.4 1238.7,225.4 1240.0,227.1 1241.3,225.3 1242.6,220.9 1243.8,214.6 1245.1,207.1 1246.3,198.8 1247.6,190.6 1248.8,183.0 1250.1,176.7 1251.3,172.4 1252.6,170.6 1253.8,172.1 1255.0,175.6 1256.2,180.7 1257.4,186.9 1258.6,193.5 1259.7,200.2 1260.9,206.4 1262.1,211.5 1263.3,215.0 1264.5,216.5 1265.7,215.4 1266.9,212.8 1268.1,209.1 1269.3,204.5 1270.5,199.6 1271.7,194.7 1272.9,190.2 1274.1,186.5 1275.3,183.9 1276.5,182.8 1277.7,183.6 1278.9,185.5 1280.1,188.2 1281.3,191.4 1282.6,194.8 1283.8,198.0 1285.0,200.7 1286.2,202.6 1287.4,203.4 1288.6,201.5 1289.9,196.9 1291.1,190.8 1292.4,184.2 1293.6,178.0 1294.9,173.5 1296.1,171.6 1297.4,173.2 1298.6,177.1 1299.9,182.8 1301.1,189.6 1302.4,197.0 1303.6,204.4 1304.9,211.3 1306.1,216.9 1307.4,220.8 1308.6,222.4 1309.9,219.8 1311.2,213.2 1312.4,203.9 1313.7,192.9 1315.0,181.4 1316.2,170.5 1317.5,161.1 1318.8,154.6 1320.1,151.9 1321.3,154.8 1322.6,161.8 1323.9,171.8 1325.1,183.6 1326.4,196.0 1327.7,207.8 1328.9,217.8 1330.2,224.8 1331.5,227.7 1332.7,225.6 1333.9,220.5 1335.1,213.2 1336.3,204.6 1337.5,195.6 1338.7,187.0 1339.9,179.7 1341.2,174.6 1342.4,172.5 1343.5,175.1 1344.7,181.5 1345.9,190.1 1347.0,199.5 1348.2,208.0 1349.4,214.4 1350.5,217.1 1351.8,213.7 1353.0,205.4 1354.3,194.4 1355.5,182.3 1356.8,171.3 1358.0,163.1 1359.2,159.6 1360.4,162.6 1361.6,169.9 1362.8,180.5 1364.0,193.2 1365.2,207.0 1366.4,220.8 1367.6,233.6 1368.8,244.1 1370.0,251.5 1371.2,254.5 1372.4,250.5 1373.6,240.9 1374.8,227.2 1376.0,211.0 1377.2,194.1 1378.4,177.9 1379.6,164.2 1380.8,154.6 1382.0,150.6 1383.3,154.1 1384.6,162.5 1385.8,174.5 1387.1,188.6 1388.4,203.4 1389.7,217.5 1390.9,229.5 1392.2,237.9 1393.5,241.4 1394.7,230.7 1395.9,208.1 1397.1,185.6 1398.4,174.9 1399.6,177.1 1400.9,182.3 1402.1,189.8 1403.4,198.9 1404.6,208.8 1405.9,218.6 1407.1,227.7 1408.4,235.2 1409.6,240.5 1410.9,242.6 1412.0,238.6 1413.2,228.8 1414.4,215.2 1415.5,199.7 1416.7,184.2 1417.8,170.7 1419.0,160.9 1420.1,156.9 1421.3,161.6 1422.4,173.1 1423.6,189.0 1424.8,207.2 1425.9,225.4 1427.1,241.4 1428.2,252.8 1429.4,257.6 1430.6,253.1 1431.9,242.4 1433.1,228.0 1434.4,212.3 1435.6,197.9 1436.9,187.3 1438.1,182.8 1439.3,185.2 1440.4,191.1 1441.6,199.0 1442.8,207.7 1443.9,215.6 1445.1,221.5 1446.3,223.9 1447.5,221.0 1448.7,213.8 1449.9,203.9 1451.2,192.6 1452.4,181.2 1453.6,171.3 1454.8,164.2 1456.1,161.2 1457.2,164.5 1458.4,172.3 1459.5,183.2 1460.7,195.7 1461.8,208.1 1463.0,219.1 1464.2,226.9 1465.3,230.1 1466.6,226.7 1467.9,218.3 1469.2,206.5 1470.5,193.2 1471.8,179.8 1473.1,168.1 1474.4,159.7 1475.7,156.2 1476.9,159.0 1478.2,165.4 1479.5,173.6 1480.7,181.8 1482.0,188.2 1483.3,190.9 1484.5,188.2 1485.8,181.9 1487.1,173.9 1488.3,165.8 1489.6,159.5 1490.9,156.9 1492.0,158.8 1493.2,163.3 1494.4,169.7 1495.5,177.0 1496.7,184.3 1497.8,190.6 1499.0,195.2 1500.1,197.1 1501.4,193.6 1502.6,185.2 1503.9,173.8 1505.1,161.5 1506.4,150.1 1507.6,141.7 1508.8,138.2 1510.0,139.8 1511.2,143.8 1512.3,149.4 1513.5,155.8 1514.6,162.2 1515.8,167.8 1516.9,171.8 1518.1,173.4 1519.4,171.7 1520.6,167.8 1521.9,162.7 1523.2,157.5 1524.5,153.6 1525.7,151.9 1526.9,153.3 1528.1,156.6 1529.2,161.1 1530.4,166.0 1531.6,170.6 1532.7,173.9 1533.9,175.3 1535.1,173.3 1536.3,168.4 1537.6,161.7 1538.8,153.9 1540.0,146.2 1541.2,139.4 1542.5,134.6 1543.7,132.6 1544.8,134.9 1546.0,140.4 1547.2,148.2 1548.3,157.0 1549.5,165.9 1550.6,173.7 1551.8,179.2 1552.9,181.5 1554.1,179.9 1555.3,176.1 1556.4,170.9 1557.6,165.3 1558.8,160.1 1559.9,156.2 1561.1,154.6 1562.4,159.2 1563.7,169.7 1565.0,182.1 1566.3,192.5 1567.6,197.1 1568.9,193.4 1570.2,184.6 1571.4,173.3 1572.7,161.9 1574.0,153.1 1575.2,149.4 1576.4,153.4 1577.6,163.2 1578.7,176.8 1579.9,192.3 1581.0,207.8 1582.2,221.3 1583.3,231.1 1584.5,235.1 1585.7,231.4 1586.9,222.9 1588.1,212.8 1589.3,204.3 1590.5,200.5 1591.8,206.0 1593.0,218.9 1594.3,235.4 1595.6,252.0 1596.8,264.9 1598.1,270.4 1599.3,265.3 1600.4,253.1 1601.6,236.6 1602.8,218.7 1603.9,202.2 1605.1,190.0 1606.3,184.9 1607.4,189.3 1608.5,199.3 1609.6,211.1 1610.8,221.0 1611.9,225.4 1613.1,222.7 1614.4,216.2 1615.6,207.4 1616.9,197.8 1618.1,189.0 1619.3,182.5 1620.6,179.8 1621.9,181.7 1623.1,186.3 1624.4,192.1 1625.7,198.0 1626.9,202.5 1628.2,204.5 1629.5,200.4 1630.7,190.9 1631.9,177.9 1633.2,163.9 1634.4,151.0 1635.7,141.4 1636.9,137.4 1638.1,139.3 1639.3,143.9 1640.5,149.7 1641.6,155.6 1642.8,160.1 1644.0,162.1 1645.3,159.8 1646.5,154.4 1647.8,147.6 1649.1,140.7 1650.3,135.3 1651.6,133.0 1652.9,135.4 1654.2,141.0 1655.4,148.2 1656.7,155.4 1658.0,160.9 1659.2,163.3 1660.5,159.4 1661.8,150.1 1663.0,138.2 1664.3,126.3 1665.6,117.0 1666.9,113.1 1668.1,115.6 1669.3,121.6 1670.6,129.7 1671.8,138.6 1673.1,146.7 1674.3,152.7 1675.6,155.2 1676.7,153.3 1677.7,148.9 1678.8,143.7 1679.9,139.3 1681.0,137.4 1682.2,142.9 1683.4,155.8 1684.5,172.5 1685.7,189.1 1686.9,202.0 1688.1,207.6 1689.3,204.8 1690.4,198.5 1691.6,190.2 1692.8,182.0 1694.0,175.6 1695.2,172.9 1696.5,180.3 1697.8,196.8 1699.1,216.5 1700.4,233.0 1701.7,240.4 1702.9,236.7 1704.1,228.5 1705.3,218.7 1706.5,210.4 1707.7,206.7 1708.9,211.2 1710.2,221.8 1711.5,235.4 1712.8,249.0 1714.0,259.5 1715.3,264.1 1716.6,257.7 1717.8,242.7 1719.1,223.5 1720.4,204.2 1721.6,189.3 1722.9,182.9 1724.1,185.5 1725.4,190.9 1726.6,196.3 1727.8,198.8 1729.1,193.3 1730.4,180.4 1731.6,163.8 1732.9,147.1 1734.2,134.2 1735.4,128.7 1736.7,131.1 1738.0,136.8 1739.2,144.1 1740.5,151.5 1741.8,157.1 1743.1,159.6 1744.4,155.7 1745.7,146.9 1747.0,136.4 1748.3,127.6 1749.6,123.7 1750.8,125.6 1752.0,130.0 1753.2,135.2 1754.4,139.6 1755.6,141.5 1756.7,138.8 1757.9,132.2 1759.1,123.3 1760.2,113.6 1761.4,104.7 1762.6,98.2 1763.7,95.4 1765.0,98.4 1766.3,105.4 1767.5,114.4 1768.8,123.4 1770.1,130.4 1771.4,133.4 1772.4,131.2 1773.5,126.7 1774.6,122.1 1775.7,119.9 1776.9,124.0 1778.2,133.8 1779.4,147.0 1780.7,161.2 1781.9,174.4 1783.2,184.2 1784.4,188.2 1785.5,186.4 1786.6,182.2 1787.7,177.1 1788.8,172.9 1789.9,171.0 1790.9,179.3 1792.0,198.0 1793.1,220.2 1794.2,238.9 1795.3,247.2 1796.5,242.6 1797.7,232.1 1798.9,219.6 1800.1,209.1 1801.3,204.5 1802.6,211.1 1803.9,226.0 1805.2,243.7 1806.5,258.7 1807.8,265.3 1809.0,258.2 1810.2,241.6 1811.3,220.3 1812.5,199.0 1813.7,182.4 1814.9,175.4 1816.1,176.2 1817.3,178.0 1818.5,180.1 1819.7,181.9 1820.9,182.7 1822.2,174.2 1823.5,155.1 1824.8,132.5 1826.1,113.4 1827.4,104.9 1828.5,107.4 1829.6,113.0 1830.7,119.7 1831.8,125.3 1832.8,127.7 1834.0,125.0 1835.2,118.9 1836.4,111.6 1837.6,105.5 1838.8,102.8 1840.0,104.5 1841.2,108.4 1842.4,113.4 1843.5,118.4 1844.7,122.3 1845.9,124.0 1847.1,122.0 1848.2,117.2 1849.4,110.8 1850.6,103.8 1851.7,97.4 1852.9,92.6 1854.1,90.6 1855.2,94.5 1856.4,103.8 1857.6,115.8 1858.8,128.1 1860.0,138.2 1861.1,143.4 1862.2,144.6 1863.3,145.2 1864.4,145.9 1865.5,147.2 1866.6,163.3 1867.7,195.2 1868.8,227.4 1869.7,255.1 1870.6,283.1 1871.5,296.4 1872.6,293.1 1873.7,285.5 1874.8,276.5 1875.8,268.9 1876.9,265.5 1878.0,275.6 1879.1,293.8 1880.2,303.9 1881.5,291.7 1882.7,266.0 1884.0,239.9 1885.1,217.2 1886.2,191.8 1887.3,170.9 1888.4,161.6 1889.7,162.6 1891.0,164.6 1892.3,167.1 1893.6,169.2 1894.9,170.1 1896.2,164.0 1897.5,150.3 1898.8,134.1 1900.1,120.4 1901.4,114.3 1902.5,116.6 1903.6,121.7 1904.7,127.8 1905.8,132.9 1906.9,135.2 1908.0,131.3 1909.2,122.2 1910.4,110.4 1911.6,98.7 1912.8,89.5 1913.9,85.6 1915.2,89.1 1916.4,96.4 1917.6,103.7 1918.8,107.2 1920.1,105.0 1921.3,100.4 1922.5,95.9 1923.7,93.7 1925.0,99.0 1926.2,111.1 1927.4,126.0 1928.6,139.7 1929.9,151.5 1931.2,162.7 1932.4,174.0 1933.7,185.6 1934.9,198.1 1936.2,211.9 1937.5,227.4 1938.5,245.7 1939.6,264.8 1940.9,284.7 1942.1,303.0 1943.3,311.4 1944.6,291.3 1945.9,264.8 1947.0,255.2 1948.1,248.1 1949.2,241.9 1950.3,235.5 1951.4,227.4 1952.7,212.4 1954.0,192.6 1955.2,171.3 1956.5,151.7 1957.8,137.2 1959.1,131.1 1960.2,132.6 1961.3,136.1 1962.4,140.2 1963.5,143.7 1964.6,145.2 1965.9,139.8 1967.2,127.6 1968.5,113.2 1969.8,101.0 1971.1,95.6 1972.3,97.6 1973.5,101.7 1974.8,105.8 1976.0,107.8 1977.2,105.2 1978.3,99.2 1979.5,91.4 1980.7,83.6 1981.9,77.6 1983.1,75.0 1984.4,79.5 1985.7,90.0 1987.0,103.4 1988.3,116.8 1989.6,127.2 1990.7,132.6 1991.8,136.8 1992.9,141.6 1993.9,148.4 1995.2,168.6 1996.4,200.9 1997.7,236.1 1999.0,264.8 1999.4,274.2 1999.9,279.6 2001.0,278.3 2002.1,275.7 2003.2,273.0 2004.3,271.8 2005.4,274.5 2006.5,279.4 2007.6,282.1 2008.3,276.0 2009.1,264.8 2010.2,242.5 2011.3,212.5 2012.4,181.8 2013.5,157.6 2014.6,147.2 2015.9,147.5 2017.2,148.1 2018.5,148.8 2019.9,149.4 2021.2,149.7 2022.4,143.7 2023.6,130.1 2024.7,114.0 2025.9,100.4 2027.1,94.3 2028.2,95.0 2029.3,96.5 2030.4,97.9 2031.5,98.6 2032.8,98.5 2034.1,98.1 2035.4,97.3 2036.7,96.0" stroke-width="9.20"/>
</g>
</g></g>
<g fill="#000">
<rect x="235" y="49" width="10" height="1026.7"/>
<rect x="2325.7" y="49" width="9.8" height="1026.7"/>
<rect x="235" y="49" width="2100.5" height="8.3"/>
<rect x="235" y="1066.9" width="2100.5" height="8.8"/>
<rect x="244" y="1044.10" width="23" height="8.4"/>
<rect x="244" y="933.45" width="23" height="8.4"/>
<rect x="244" y="822.80" width="23" height="8.4"/>
<rect x="244" y="712.15" width="23" height="8.4"/>
<rect x="244" y="601.50" width="23" height="8.4"/>
<rect x="244" y="490.85" width="23" height="8.4"/>
<rect x="244" y="380.20" width="23" height="8.4"/>
<rect x="244" y="269.55" width="23" height="8.4"/>
<rect x="244" y="158.90" width="23" height="8.4"/>
<rect x="240.50" y="1048" width="10" height="20"/>
<rect x="657.50" y="1048" width="10" height="20"/>
<rect x="1074.50" y="1048" width="10" height="20"/>
<rect x="1491.50" y="1048" width="10" height="20"/>
<rect x="1908.50" y="1048" width="10" height="20"/>
</g>
<text class="tick" transform="translate(211.50 1071.00) scale(1.145 1)" text-anchor="end">50</text>
<text class="tick" transform="translate(211.50 960.35) scale(1.145 1)" text-anchor="end">51</text>
<text class="tick" transform="translate(211.50 849.70) scale(1.145 1)" text-anchor="end">52</text>
<text class="tick" transform="translate(211.50 739.05) scale(1.145 1)" text-anchor="end">53</text>
<text class="tick" transform="translate(211.50 628.40) scale(1.145 1)" text-anchor="end">54</text>
<text class="tick" transform="translate(211.50 517.75) scale(1.145 1)" text-anchor="end">55</text>
<text class="tick" transform="translate(211.50 407.10) scale(1.145 1)" text-anchor="end">56</text>
<text class="tick" transform="translate(211.50 296.45) scale(1.145 1)" text-anchor="end">57</text>
<text class="tick" transform="translate(211.50 185.80) scale(1.145 1)" text-anchor="end">58</text>
<text class="tick" transform="translate(211.50 75.15) scale(1.145 1)" text-anchor="end">59</text>
<text class="tick" transform="translate(245.00 1149.70) scale(1.145 1)" text-anchor="middle">0</text>
<text class="tick" transform="translate(662.00 1149.70) scale(1.145 1)" text-anchor="middle">2</text>
<text class="tick" transform="translate(1079.00 1149.70) scale(1.145 1)" text-anchor="middle">4</text>
<text class="tick" transform="translate(1496.00 1149.70) scale(1.145 1)" text-anchor="middle">6</text>
<text class="tick" transform="translate(1913.00 1149.70) scale(1.145 1)" text-anchor="middle">8</text>
<text class="tick" transform="translate(2330.00 1149.70) scale(1.145 1)" text-anchor="middle">10</text>
<text class="ttl" transform="translate(1287.40 1284.20) scale(1.145 1)" text-anchor="middle">Time/s</text>
<text class="ttl" style="font-size:93.3px" transform="translate(88.9 567.3) rotate(-90) scale(1 1.145)" text-anchor="middle">Frequency/Hz</text>
<line x1="326.5" y1="108.5" x2="482.5" y2="108.5" stroke="#505050" stroke-width="9.2" stroke-linecap="round"/>
<text class="leg" transform="translate(522.50 132.10) scale(1.17 1)" text-anchor="start">zone1</text>
<line x1="326.5" y1="191" x2="482.5" y2="191" stroke="#ff3e3e" stroke-width="9.2" stroke-linecap="round"/>
<text class="leg" transform="translate(522.50 214.60) scale(1.17 1)" text-anchor="start">zone2</text>
<line x1="326.5" y1="272.6" x2="482.5" y2="272.6" stroke="#0070e4" stroke-width="9.2" stroke-linecap="round"/>
<text class="leg" transform="translate(522.50 296.20) scale(1.17 1)" text-anchor="start">zone3</text>
<line x1="326.5" y1="354.6" x2="482.5" y2="354.6" stroke="#00af67" stroke-width="9.2" stroke-linecap="round"/>
<text class="leg" transform="translate(522.50 378.20) scale(1.17 1)" text-anchor="start">zone4</text>
</svg>
</body>
</html>
